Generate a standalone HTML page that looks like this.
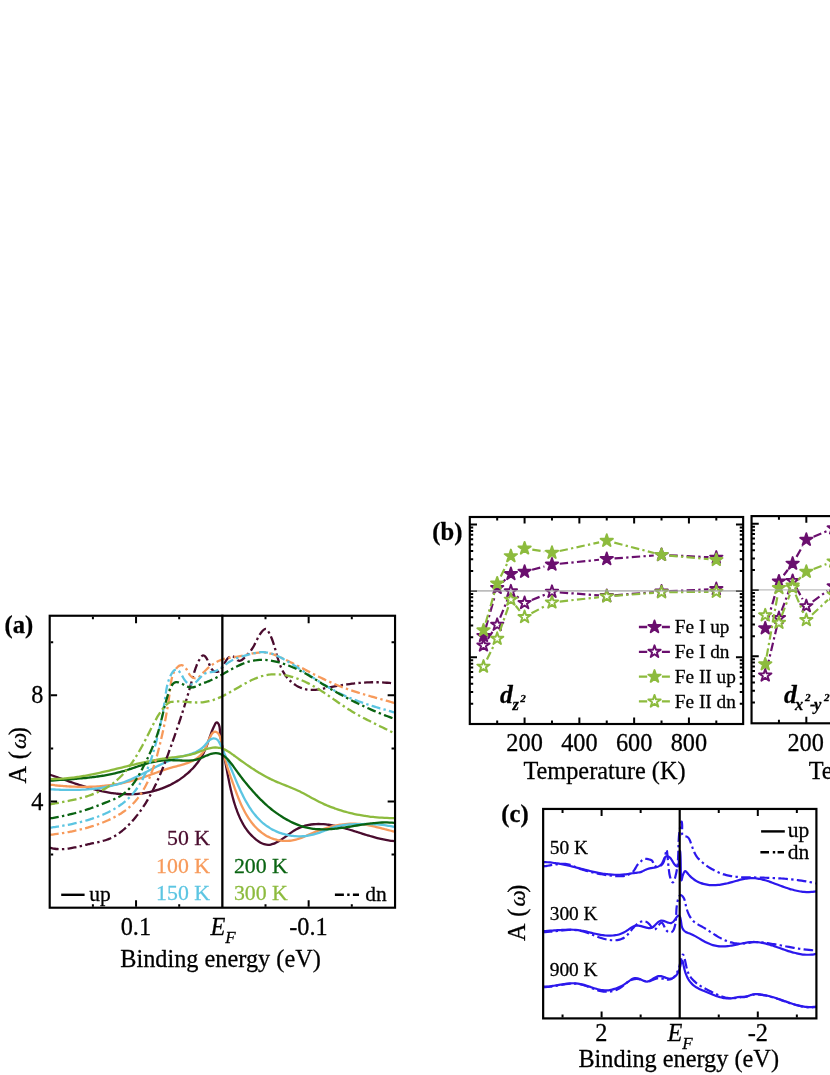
<!DOCTYPE html>
<html><head><meta charset="utf-8"><title>Figure</title>
<style>html,body{margin:0;padding:0;background:#fff}body{width:830px;height:1075px;overflow:hidden;font-family:"Liberation Serif",serif}svg{display:block}</style>
</head><body>
<svg width="830" height="1075" viewBox="0 0 830 1075">
<rect width="830" height="1075" fill="#fff"/>
<defs>
<clipPath id="ca"><rect x="49.7" y="615.7" width="345.3" height="292"/></clipPath>
<clipPath id="cc"><rect x="543.2" y="809" width="273.2" height="209.4"/></clipPath>
<filter id="noaa" filterUnits="userSpaceOnUse" x="0" y="0" width="830" height="1075"><feOffset dx="0" dy="0"/></filter>
</defs>
<g clip-path="url(#ca)" fill="none" stroke-width="2.3" stroke-linejoin="round">
<path d="M49.96,774.71C50.35,774.84 51.51,775.24 52.29,775.51C53.06,775.78 53.84,776.05 54.62,776.33C55.4,776.6 56.18,776.88 56.96,777.15C57.74,777.43 58.53,777.7 59.31,777.98C60.1,778.26 60.88,778.54 61.67,778.82C62.46,779.1 63.25,779.38 64.04,779.66C64.83,779.94 65.62,780.22 66.41,780.49C67.2,780.77 68,781.05 68.79,781.33C69.59,781.61 70.38,781.89 71.18,782.16C71.98,782.44 72.78,782.71 73.58,782.98C74.38,783.26 75.18,783.53 75.98,783.8C76.78,784.07 77.59,784.33 78.39,784.6C79.2,784.86 80,785.12 80.81,785.38C81.62,785.64 82.43,785.9 83.24,786.15C84.05,786.4 84.86,786.65 85.67,786.9C86.48,787.15 87.29,787.39 88.11,787.63C88.92,787.86 89.73,788.1 90.55,788.33C91.36,788.56 92.18,788.78 93,789C93.82,789.22 94.63,789.44 95.45,789.65C96.27,789.86 97.09,790.06 97.92,790.26C98.74,790.46 99.56,790.66 100.38,790.84C101.21,791.03 102.03,791.21 102.85,791.39C103.68,791.56 104.51,791.73 105.33,791.89C106.16,792.05 106.99,792.21 107.81,792.35C108.64,792.5 109.47,792.64 110.3,792.77C111.13,792.9 111.96,793.03 112.79,793.14C113.62,793.26 114.46,793.37 115.29,793.47C116.12,793.56 116.95,793.66 117.79,793.74C118.62,793.82 119.46,793.89 120.29,793.96C121.13,794.02 121.96,794.07 122.8,794.12C123.64,794.16 124.48,794.2 125.31,794.22C126.15,794.25 126.99,794.26 127.83,794.27C128.67,794.27 129.5,794.26 130.34,794.25C131.18,794.23 132.02,794.21 132.86,794.17C133.7,794.13 134.53,794.09 135.37,794.03C136.21,793.97 137.04,793.91 137.88,793.83C138.71,793.75 139.55,793.66 140.38,793.57C141.21,793.47 142.04,793.36 142.87,793.24C143.7,793.12 144.53,792.99 145.36,792.85C146.18,792.71 147.01,792.56 147.83,792.4C148.65,792.23 149.47,792.06 150.28,791.88C151.1,791.7 151.92,791.5 152.73,791.3C153.54,791.09 154.35,790.88 155.15,790.65C155.96,790.42 156.76,790.18 157.56,789.93C158.36,789.69 159.15,789.43 159.94,789.16C160.73,788.88 161.52,788.6 162.3,788.31C163.09,788.02 163.87,787.71 164.64,787.4C165.42,787.08 166.19,786.75 166.95,786.42C167.72,786.08 168.48,785.73 169.24,785.37C169.99,785.01 170.74,784.63 171.49,784.25C172.24,783.87 172.98,783.47 173.71,783.06C174.45,782.66 175.17,782.24 175.9,781.81C176.62,781.38 177.34,780.94 178.05,780.48C178.76,780.03 179.47,779.57 180.16,779.09C180.86,778.61 181.55,778.12 182.24,777.62C182.92,777.12 183.6,776.61 184.27,776.09C184.94,775.57 185.6,775.03 186.25,774.49C186.91,773.94 187.55,773.39 188.18,772.82C188.82,772.25 189.44,771.68 190.06,771.09C190.67,770.5 191.28,769.9 191.87,769.3C192.47,768.69 193.05,768.07 193.62,767.44C194.19,766.81 194.75,766.18 195.3,765.53C195.84,764.88 196.38,764.23 196.9,763.56C197.42,762.89 197.93,762.22 198.43,761.53C198.92,760.85 199.4,760.16 199.87,759.46C200.33,758.75 200.79,758.04 201.22,757.33C201.66,756.61 202.08,755.88 202.49,755.14C202.89,754.41 203.28,753.67 203.65,752.91C204.03,752.16 204.38,751.4 204.72,750.64C205.07,749.87 205.39,749.1 205.71,748.33C206.03,747.55 206.33,746.77 206.63,745.98C206.93,745.2 207.22,744.41 207.51,743.62C207.79,742.83 208.07,742.03 208.34,741.24C208.62,740.45 208.89,739.65 209.17,738.86C209.44,738.07 209.71,737.27 209.99,736.48C210.26,735.69 210.54,734.9 210.83,734.12C211.11,733.33 211.4,732.55 211.7,731.77C212,731 212.3,730.22 212.62,729.46C212.94,728.69 213.26,727.93 213.6,727.18C213.95,726.43 214.3,725.68 214.67,724.95C215.05,724.22 215.39,723.21 215.84,722.79C216.29,722.38 216.88,722.16 217.38,722.43C217.87,722.71 218.46,723.68 218.82,724.44C219.18,725.2 219.38,726.1 219.56,727C219.74,727.89 219.79,728.87 219.88,729.8C219.97,730.73 220.01,731.69 220.09,732.6C220.17,733.51 220.27,734.39 220.37,735.26C220.47,736.13 220.59,736.97 220.71,737.81C220.84,738.64 220.97,739.45 221.11,740.27C221.25,741.08 221.4,741.87 221.54,742.67C221.69,743.47 221.85,744.26 222,745.06C222.16,745.86 222.32,746.65 222.48,747.45C222.64,748.26 222.8,749.06 222.96,749.87C223.12,750.68 223.28,751.49 223.44,752.3C223.6,753.12 223.76,753.93 223.92,754.75C224.08,755.57 224.24,756.39 224.41,757.22C224.57,758.04 224.73,758.87 224.89,759.69C225.05,760.52 225.21,761.35 225.37,762.18C225.53,763.01 225.68,763.84 225.84,764.67C226,765.5 226.16,766.33 226.31,767.17C226.47,768 226.63,768.84 226.78,769.67C226.94,770.5 227.1,771.34 227.25,772.17C227.41,773.01 227.57,773.84 227.73,774.68C227.89,775.51 228.05,776.35 228.21,777.18C228.38,778.01 228.54,778.85 228.71,779.68C228.87,780.51 229.04,781.35 229.21,782.18C229.38,783.01 229.55,783.84 229.73,784.67C229.91,785.5 230.09,786.33 230.27,787.15C230.45,787.98 230.64,788.81 230.82,789.63C231.01,790.45 231.21,791.28 231.4,792.1C231.6,792.92 231.8,793.73 232.01,794.55C232.21,795.37 232.43,796.18 232.64,796.99C232.86,797.8 233.08,798.61 233.3,799.42C233.53,800.23 233.76,801.03 234,801.83C234.24,802.63 234.48,803.43 234.73,804.23C234.98,805.02 235.24,805.81 235.5,806.6C235.76,807.39 236.03,808.18 236.31,808.96C236.59,809.74 236.87,810.52 237.16,811.29C237.46,812.06 237.76,812.83 238.06,813.6C238.37,814.36 238.69,815.13 239.01,815.88C239.34,816.64 239.67,817.39 240.01,818.14C240.36,818.89 240.71,819.63 241.07,820.37C241.44,821.1 241.82,821.84 242.21,822.56C242.6,823.29 243,824.01 243.42,824.72C243.84,825.44 244.27,826.15 244.72,826.85C245.17,827.55 245.64,828.24 246.12,828.93C246.61,829.62 247.11,830.29 247.63,830.97C248.15,831.64 248.69,832.3 249.26,832.96C249.82,833.61 250.4,834.26 251.01,834.9C251.62,835.54 252.25,836.17 252.9,836.79C253.56,837.41 254.24,838.03 254.94,838.63C255.64,839.23 256.38,839.83 257.12,840.39C257.87,840.95 258.64,841.5 259.41,841.98C260.18,842.47 260.97,842.92 261.74,843.29C262.52,843.66 263.29,843.97 264.06,844.21C264.83,844.44 265.59,844.6 266.34,844.69C267.1,844.79 267.85,844.81 268.59,844.79C269.33,844.76 270.07,844.67 270.81,844.53C271.54,844.39 272.28,844.2 273,843.96C273.73,843.73 274.46,843.44 275.18,843.13C275.9,842.81 276.62,842.45 277.34,842.06C278.06,841.68 278.78,841.25 279.5,840.81C280.22,840.37 280.93,839.9 281.65,839.41C282.37,838.93 283.08,838.42 283.8,837.91C284.52,837.4 285.24,836.87 285.96,836.34C286.68,835.82 287.4,835.28 288.12,834.75C288.85,834.23 289.58,833.69 290.31,833.18C291.04,832.66 291.77,832.15 292.51,831.66C293.25,831.18 293.99,830.7 294.74,830.25C295.49,829.8 296.24,829.37 297,828.97C297.76,828.58 298.52,828.21 299.29,827.86C300.06,827.52 300.83,827.2 301.61,826.91C302.39,826.61 303.18,826.34 303.96,826.1C304.75,825.85 305.54,825.63 306.34,825.44C307.13,825.24 307.93,825.06 308.74,824.91C309.54,824.76 310.35,824.62 311.15,824.51C311.96,824.4 312.78,824.31 313.59,824.24C314.4,824.16 315.22,824.11 316.04,824.08C316.86,824.04 317.68,824.02 318.5,824.02C319.33,824.02 320.15,824.04 320.98,824.07C321.8,824.1 322.63,824.15 323.46,824.21C324.29,824.27 325.12,824.35 325.95,824.44C326.78,824.53 327.61,824.64 328.44,824.75C329.27,824.87 330.1,824.99 330.93,825.13C331.75,825.27 332.58,825.42 333.41,825.58C334.24,825.74 335.07,825.91 335.89,826.08C336.72,826.26 337.55,826.45 338.37,826.64C339.19,826.84 340.02,827.04 340.84,827.24C341.66,827.45 342.47,827.67 343.29,827.89C344.11,828.1 344.92,828.33 345.74,828.56C346.55,828.79 347.36,829.02 348.17,829.26C348.98,829.5 349.79,829.74 350.6,829.99C351.41,830.23 352.22,830.48 353.03,830.73C353.84,830.98 354.64,831.23 355.45,831.49C356.26,831.74 357.06,832 357.87,832.25C358.67,832.51 359.48,832.76 360.28,833.02C361.09,833.27 361.89,833.53 362.7,833.78C363.5,834.04 364.31,834.29 365.11,834.54C365.92,834.79 366.72,835.04 367.53,835.28C368.34,835.53 369.14,835.77 369.95,836.01C370.76,836.25 371.57,836.48 372.38,836.71C373.19,836.94 374,837.17 374.81,837.39C375.62,837.61 376.43,837.82 377.24,838.03C378.06,838.24 378.87,838.44 379.69,838.63C380.51,838.83 381.32,839.01 382.14,839.19C382.96,839.37 383.79,839.54 384.61,839.7C385.43,839.87 386.26,840.02 387.09,840.16C387.92,840.3 388.75,840.44 389.58,840.56C390.41,840.68 391.25,840.8 392.08,840.9C392.92,841 394.18,841.12 394.6,841.16" stroke="#4a0c2e"/>
<path d="M49.84,784.65C50.25,784.7 51.49,784.85 52.32,784.95C53.15,785.05 53.98,785.14 54.81,785.23C55.64,785.32 56.47,785.41 57.31,785.5C58.14,785.58 58.97,785.66 59.81,785.74C60.64,785.81 61.48,785.89 62.31,785.96C63.15,786.03 63.98,786.09 64.82,786.15C65.66,786.22 66.5,786.27 67.33,786.33C68.17,786.38 69.01,786.43 69.85,786.48C70.69,786.53 71.53,786.57 72.37,786.61C73.21,786.64 74.05,786.68 74.89,786.71C75.73,786.74 76.57,786.76 77.41,786.78C78.25,786.8 79.09,786.82 79.93,786.83C80.77,786.84 81.62,786.85 82.46,786.86C83.3,786.86 84.14,786.86 84.98,786.85C85.82,786.85 86.66,786.83 87.5,786.82C88.35,786.8 89.19,786.78 90.03,786.76C90.87,786.73 91.71,786.7 92.55,786.67C93.39,786.63 94.23,786.59 95.07,786.55C95.91,786.5 96.75,786.45 97.58,786.4C98.42,786.34 99.26,786.28 100.1,786.22C100.94,786.15 101.77,786.08 102.61,786C103.44,785.93 104.28,785.85 105.12,785.76C105.95,785.67 106.78,785.58 107.62,785.48C108.45,785.38 109.28,785.28 110.11,785.17C110.95,785.06 111.78,784.94 112.61,784.82C113.43,784.7 114.26,784.58 115.09,784.44C115.92,784.31 116.74,784.17 117.57,784.03C118.39,783.88 119.22,783.73 120.04,783.58C120.86,783.42 121.69,783.26 122.51,783.09C123.33,782.92 124.14,782.74 124.96,782.56C125.78,782.38 126.6,782.19 127.41,782C128.22,781.81 129.04,781.61 129.85,781.4C130.66,781.19 131.47,780.98 132.28,780.76C133.09,780.54 133.89,780.31 134.7,780.08C135.5,779.84 136.3,779.6 137.11,779.36C137.91,779.11 138.71,778.86 139.5,778.6C140.3,778.34 141.1,778.08 141.89,777.81C142.69,777.54 143.48,777.27 144.28,776.99C145.07,776.71 145.86,776.43 146.65,776.15C147.44,775.87 148.23,775.58 149.02,775.3C149.82,775.01 150.6,774.72 151.39,774.43C152.18,774.15 152.97,773.86 153.76,773.57C154.55,773.28 155.34,772.99 156.13,772.71C156.92,772.42 157.71,772.13 158.5,771.85C159.29,771.57 160.08,771.29 160.88,771.01C161.67,770.73 162.46,770.46 163.26,770.19C164.05,769.92 164.85,769.65 165.64,769.39C166.44,769.13 167.24,768.88 168.04,768.63C168.84,768.38 169.64,768.14 170.44,767.9C171.24,767.67 172.05,767.44 172.85,767.22C173.66,767 174.47,766.79 175.28,766.58C176.09,766.37 176.9,766.17 177.71,765.96C178.51,765.75 179.32,765.54 180.13,765.33C180.94,765.11 181.74,764.9 182.54,764.67C183.35,764.44 184.14,764.2 184.94,763.95C185.73,763.69 186.52,763.43 187.31,763.15C188.09,762.86 188.87,762.56 189.64,762.23C190.41,761.91 191.18,761.56 191.93,761.19C192.69,760.82 193.43,760.43 194.16,760.01C194.88,759.59 195.59,759.15 196.28,758.69C196.97,758.22 197.65,757.73 198.29,757.22C198.94,756.7 199.56,756.16 200.16,755.59C200.75,755.03 201.32,754.43 201.85,753.81C202.38,753.19 202.88,752.54 203.35,751.87C203.81,751.19 204.23,750.49 204.63,749.76C205.03,749.03 205.38,748.27 205.73,747.48C206.09,746.7 206.41,745.89 206.74,745.07C207.08,744.24 207.4,743.38 207.74,742.52C208.08,741.65 208.43,740.74 208.8,739.85C209.17,738.96 209.56,738.03 209.98,737.19C210.4,736.35 210.83,735.51 211.29,734.8C211.75,734.1 212.24,733.44 212.75,732.96C213.25,732.48 213.8,732.1 214.32,731.91C214.85,731.72 215.4,731.69 215.92,731.82C216.44,731.95 216.96,732.28 217.44,732.7C217.92,733.11 218.39,733.69 218.8,734.32C219.22,734.95 219.6,735.7 219.93,736.46C220.26,737.22 220.52,738.06 220.76,738.9C221,739.74 221.18,740.63 221.35,741.51C221.53,742.39 221.67,743.31 221.82,744.21C221.98,745.1 222.12,746.01 222.27,746.9C222.43,747.78 222.59,748.66 222.77,749.53C222.94,750.4 223.12,751.26 223.3,752.12C223.49,752.97 223.68,753.82 223.88,754.65C224.08,755.49 224.28,756.32 224.49,757.15C224.7,757.97 224.92,758.79 225.14,759.6C225.36,760.42 225.59,761.22 225.82,762.02C226.05,762.83 226.29,763.62 226.53,764.42C226.77,765.21 227.01,766 227.26,766.78C227.51,767.57 227.76,768.35 228.02,769.13C228.28,769.91 228.54,770.69 228.8,771.47C229.06,772.24 229.32,773.02 229.59,773.79C229.86,774.56 230.13,775.33 230.4,776.11C230.67,776.88 230.94,777.65 231.22,778.42C231.49,779.2 231.77,779.97 232.05,780.75C232.32,781.52 232.6,782.3 232.88,783.08C233.16,783.85 233.44,784.64 233.72,785.42C234,786.2 234.28,786.99 234.56,787.77C234.84,788.56 235.12,789.34 235.41,790.13C235.7,790.92 235.99,791.71 236.28,792.49C236.57,793.28 236.87,794.07 237.17,794.86C237.47,795.64 237.77,796.43 238.08,797.21C238.39,798 238.7,798.78 239.02,799.56C239.34,800.34 239.67,801.12 240,801.9C240.33,802.67 240.67,803.45 241.01,804.22C241.36,804.99 241.71,805.75 242.07,806.51C242.43,807.28 242.8,808.04 243.17,808.79C243.55,809.54 243.93,810.29 244.33,811.04C244.72,811.78 245.13,812.52 245.54,813.25C245.95,813.98 246.38,814.71 246.81,815.43C247.25,816.15 247.69,816.87 248.15,817.57C248.61,818.28 249.08,818.98 249.56,819.67C250.04,820.36 250.54,821.05 251.04,821.72C251.55,822.4 252.07,823.06 252.61,823.72C253.14,824.38 253.69,825.02 254.25,825.66C254.81,826.29 255.38,826.92 255.97,827.53C256.56,828.13 257.16,828.73 257.77,829.31C258.38,829.89 259.01,830.46 259.65,831C260.29,831.55 260.94,832.08 261.61,832.59C262.28,833.1 262.96,833.6 263.65,834.07C264.34,834.54 265.05,834.99 265.77,835.42C266.49,835.84 267.22,836.25 267.97,836.63C268.71,837.01 269.47,837.37 270.24,837.7C271.01,838.03 271.79,838.34 272.59,838.62C273.38,838.9 274.18,839.16 274.99,839.39C275.8,839.62 276.61,839.83 277.43,840.01C278.26,840.19 279.08,840.35 279.92,840.47C280.75,840.6 281.58,840.7 282.42,840.78C283.25,840.85 284.09,840.9 284.93,840.93C285.77,840.95 286.61,840.94 287.44,840.91C288.28,840.88 289.11,840.82 289.94,840.74C290.77,840.65 291.6,840.54 292.41,840.4C293.23,840.25 294.04,840.08 294.85,839.89C295.66,839.7 296.46,839.47 297.25,839.23C298.05,838.99 298.83,838.73 299.62,838.45C300.41,838.17 301.19,837.87 301.97,837.57C302.75,837.26 303.52,836.94 304.3,836.61C305.08,836.29 305.85,835.95 306.63,835.62C307.4,835.28 308.18,834.94 308.95,834.6C309.73,834.27 310.51,833.93 311.29,833.6C312.07,833.27 312.85,832.94 313.64,832.62C314.42,832.3 315.21,831.99 316,831.68C316.79,831.37 317.58,831.07 318.37,830.77C319.17,830.47 319.96,830.18 320.76,829.9C321.56,829.61 322.36,829.34 323.16,829.07C323.96,828.8 324.76,828.53 325.56,828.28C326.37,828.03 327.17,827.78 327.98,827.54C328.79,827.31 329.6,827.08 330.41,826.86C331.22,826.64 332.03,826.43 332.84,826.23C333.66,826.03 334.47,825.84 335.29,825.66C336.1,825.48 336.92,825.32 337.74,825.16C338.56,825 339.38,824.85 340.2,824.72C341.02,824.58 341.84,824.46 342.67,824.35C343.49,824.24 344.31,824.14 345.14,824.05C345.97,823.96 346.79,823.89 347.62,823.83C348.45,823.77 349.27,823.72 350.1,823.69C350.93,823.66 351.76,823.64 352.59,823.63C353.42,823.63 354.25,823.64 355.09,823.66C355.92,823.69 356.75,823.73 357.58,823.78C358.42,823.84 359.25,823.91 360.08,824C360.92,824.08 361.75,824.19 362.59,824.3C363.42,824.41 364.25,824.54 365.09,824.67C365.92,824.81 366.76,824.96 367.59,825.11C368.42,825.27 369.25,825.44 370.09,825.61C370.92,825.79 371.75,825.97 372.58,826.16C373.41,826.35 374.24,826.54 375.07,826.74C375.89,826.94 376.72,827.15 377.54,827.35C378.37,827.56 379.19,827.77 380.01,827.98C380.83,828.2 381.65,828.41 382.47,828.62C383.29,828.84 384.1,829.05 384.92,829.26C385.73,829.47 386.54,829.69 387.35,829.89C388.15,830.1 388.96,830.3 389.76,830.5C390.56,830.7 391.36,830.9 392.16,831.08C392.96,831.27 394.14,831.54 394.54,831.63" stroke="#f79a5b"/>
<path d="M49.84,789.24C50.25,789.27 51.49,789.34 52.32,789.39C53.15,789.43 53.98,789.47 54.81,789.52C55.64,789.56 56.48,789.6 57.31,789.63C58.14,789.67 58.98,789.7 59.81,789.73C60.65,789.76 61.49,789.79 62.33,789.82C63.16,789.84 64,789.87 64.84,789.88C65.68,789.9 66.52,789.92 67.36,789.93C68.2,789.94 69.05,789.95 69.89,789.96C70.73,789.96 71.57,789.96 72.42,789.96C73.26,789.96 74.1,789.95 74.94,789.94C75.79,789.92 76.63,789.91 77.47,789.89C78.32,789.87 79.16,789.84 80,789.81C80.85,789.78 81.69,789.75 82.53,789.71C83.37,789.67 84.22,789.62 85.06,789.57C85.9,789.52 86.74,789.47 87.58,789.4C88.42,789.34 89.26,789.28 90.1,789.2C90.94,789.13 91.77,789.05 92.61,788.97C93.45,788.88 94.28,788.79 95.12,788.69C95.95,788.59 96.79,788.49 97.62,788.38C98.45,788.27 99.28,788.15 100.11,788.03C100.94,787.9 101.77,787.77 102.59,787.63C103.42,787.5 104.25,787.35 105.07,787.2C105.89,787.05 106.71,786.89 107.53,786.72C108.35,786.55 109.17,786.37 109.98,786.19C110.8,786.01 111.61,785.82 112.42,785.62C113.23,785.42 114.04,785.21 114.84,784.99C115.65,784.78 116.45,784.55 117.25,784.32C118.06,784.09 118.85,783.84 119.65,783.59C120.44,783.34 121.24,783.08 122.03,782.81C122.82,782.54 123.6,782.26 124.39,781.98C125.17,781.69 125.95,781.39 126.73,781.09C127.51,780.78 128.28,780.47 129.06,780.14C129.83,779.82 130.6,779.49 131.37,779.16C132.14,778.82 132.9,778.48 133.67,778.13C134.43,777.78 135.19,777.43 135.95,777.07C136.71,776.71 137.47,776.34 138.23,775.97C138.99,775.6 139.74,775.23 140.5,774.86C141.26,774.48 142.01,774.1 142.76,773.72C143.52,773.34 144.27,772.95 145.02,772.57C145.77,772.18 146.52,771.79 147.27,771.4C148.03,771.02 148.78,770.63 149.53,770.24C150.28,769.85 151.03,769.46 151.78,769.07C152.53,768.69 153.28,768.3 154.03,767.92C154.79,767.53 155.54,767.15 156.29,766.77C157.04,766.39 157.8,766.01 158.55,765.64C159.31,765.27 160.07,764.9 160.82,764.53C161.58,764.17 162.34,763.81 163.1,763.45C163.86,763.1 164.62,762.75 165.39,762.41C166.15,762.06 166.92,761.73 167.69,761.4C168.46,761.07 169.23,760.74 170,760.43C170.77,760.11 171.55,759.81 172.33,759.51C173.11,759.21 173.89,758.92 174.67,758.64C175.46,758.36 176.24,758.09 177.03,757.84C177.82,757.58 178.62,757.33 179.42,757.09C180.21,756.86 181.02,756.63 181.82,756.41C182.62,756.2 183.43,755.99 184.23,755.78C185.04,755.57 185.84,755.36 186.64,755.15C187.44,754.93 188.24,754.72 189.04,754.49C189.83,754.26 190.62,754.02 191.4,753.77C192.18,753.51 192.96,753.24 193.72,752.94C194.49,752.64 195.24,752.33 195.98,751.98C196.73,751.63 197.46,751.26 198.18,750.85C198.89,750.43 199.6,749.99 200.28,749.5C200.97,749.02 201.64,748.49 202.29,747.92C202.94,747.35 203.57,746.71 204.19,746.06C204.8,745.4 205.39,744.67 205.99,743.98C206.58,743.28 207.16,742.55 207.76,741.91C208.36,741.27 208.95,740.63 209.57,740.11C210.2,739.6 210.83,739.14 211.51,738.84C212.18,738.55 212.91,738.36 213.62,738.34C214.33,738.32 215.1,738.45 215.77,738.73C216.44,739.01 217.1,739.46 217.66,740.02C218.21,740.59 218.67,741.35 219.12,742.12C219.56,742.88 219.93,743.77 220.31,744.6C220.7,745.43 221.06,746.27 221.43,747.08C221.79,747.89 222.15,748.68 222.51,749.47C222.86,750.25 223.22,751.02 223.56,751.78C223.91,752.54 224.25,753.29 224.59,754.04C224.93,754.78 225.27,755.51 225.6,756.25C225.94,756.98 226.27,757.71 226.6,758.43C226.92,759.16 227.25,759.88 227.57,760.61C227.9,761.34 228.22,762.06 228.54,762.8C228.86,763.53 229.18,764.26 229.51,765C229.83,765.74 230.14,766.49 230.46,767.24C230.78,767.99 231.1,768.75 231.42,769.52C231.74,770.28 232.06,771.05 232.39,771.82C232.71,772.59 233.03,773.36 233.35,774.14C233.68,774.92 234,775.7 234.33,776.48C234.66,777.27 234.99,778.05 235.32,778.84C235.65,779.63 235.98,780.42 236.32,781.21C236.66,782 237,782.79 237.34,783.58C237.68,784.37 238.03,785.16 238.38,785.95C238.73,786.74 239.08,787.53 239.44,788.32C239.79,789.11 240.16,789.9 240.52,790.68C240.89,791.47 241.26,792.25 241.63,793.03C242.01,793.81 242.39,794.59 242.78,795.36C243.17,796.13 243.56,796.9 243.96,797.67C244.36,798.43 244.76,799.19 245.17,799.95C245.58,800.7 246,801.45 246.42,802.2C246.85,802.94 247.28,803.68 247.72,804.41C248.16,805.14 248.6,805.87 249.06,806.59C249.51,807.3 249.98,808.01 250.45,808.71C250.92,809.42 251.4,810.11 251.88,810.79C252.37,811.48 252.87,812.16 253.37,812.82C253.88,813.49 254.4,814.14 254.92,814.79C255.45,815.43 255.98,816.07 256.53,816.69C257.07,817.32 257.63,817.93 258.19,818.53C258.76,819.13 259.34,819.72 259.92,820.3C260.51,820.87 261.11,821.44 261.72,821.99C262.33,822.54 262.96,823.07 263.59,823.6C264.23,824.12 264.87,824.63 265.53,825.12C266.19,825.61 266.86,826.09 267.54,826.55C268.23,827.02 268.92,827.46 269.62,827.9C270.33,828.33 271.04,828.75 271.76,829.15C272.49,829.55 273.22,829.94 273.96,830.31C274.7,830.68 275.45,831.03 276.21,831.37C276.97,831.71 277.74,832.03 278.51,832.33C279.28,832.64 280.06,832.93 280.85,833.2C281.64,833.47 282.43,833.73 283.23,833.96C284.03,834.2 284.83,834.42 285.64,834.63C286.45,834.83 287.26,835.02 288.08,835.18C288.9,835.35 289.72,835.5 290.54,835.64C291.37,835.77 292.2,835.88 293.03,835.98C293.85,836.08 294.69,836.16 295.52,836.22C296.35,836.28 297.19,836.32 298.03,836.34C298.86,836.36 299.7,836.37 300.53,836.35C301.37,836.34 302.21,836.3 303.04,836.25C303.88,836.19 304.71,836.12 305.55,836.03C306.38,835.93 307.21,835.82 308.04,835.69C308.87,835.55 309.69,835.4 310.52,835.23C311.34,835.06 312.16,834.86 312.97,834.65C313.79,834.44 314.6,834.2 315.41,833.96C316.22,833.72 317.03,833.45 317.84,833.18C318.64,832.91 319.44,832.63 320.25,832.34C321.05,832.05 321.85,831.75 322.65,831.45C323.45,831.15 324.25,830.85 325.04,830.54C325.84,830.24 326.64,829.93 327.44,829.63C328.24,829.33 329.04,829.03 329.84,828.74C330.64,828.45 331.44,828.16 332.24,827.89C333.05,827.62 333.85,827.35 334.66,827.11C335.47,826.86 336.28,826.62 337.09,826.41C337.9,826.19 338.72,825.99 339.54,825.81C340.35,825.64 341.18,825.48 342,825.34C342.83,825.19 343.65,825.07 344.48,824.96C345.31,824.85 346.14,824.75 346.98,824.67C347.81,824.58 348.64,824.51 349.48,824.45C350.32,824.39 351.15,824.34 351.99,824.3C352.83,824.25 353.67,824.22 354.51,824.19C355.35,824.16 356.19,824.14 357.03,824.12C357.87,824.1 358.71,824.08 359.55,824.07C360.38,824.05 361.22,824.04 362.06,824.03C362.9,824.03 363.74,824.02 364.58,824.02C365.41,824.03 366.25,824.03 367.09,824.04C367.93,824.05 368.76,824.07 369.6,824.09C370.44,824.11 371.27,824.13 372.11,824.17C372.94,824.2 373.78,824.24 374.61,824.28C375.45,824.33 376.28,824.38 377.12,824.44C377.95,824.5 378.79,824.56 379.62,824.64C380.45,824.71 381.29,824.79 382.12,824.88C382.95,824.98 383.79,825.07 384.62,825.18C385.45,825.29 386.28,825.41 387.11,825.54C387.94,825.66 388.77,825.8 389.6,825.95C390.43,826.09 391.26,826.25 392.09,826.42C392.92,826.59 394.17,826.87 394.58,826.96" stroke="#5cc5e2"/>
<path d="M49.83,780.7C50.25,780.67 51.51,780.57 52.34,780.51C53.18,780.45 54.02,780.39 54.86,780.33C55.7,780.27 56.54,780.21 57.38,780.15C58.22,780.09 59.06,780.03 59.91,779.97C60.75,779.91 61.59,779.86 62.43,779.8C63.27,779.74 64.11,779.68 64.95,779.62C65.79,779.56 66.64,779.51 67.48,779.45C68.32,779.39 69.16,779.33 70,779.26C70.84,779.2 71.68,779.14 72.53,779.08C73.37,779.01 74.21,778.95 75.05,778.88C75.89,778.81 76.73,778.75 77.57,778.68C78.41,778.61 79.25,778.54 80.1,778.46C80.94,778.39 81.78,778.31 82.62,778.23C83.45,778.16 84.29,778.08 85.13,777.99C85.97,777.91 86.81,777.82 87.65,777.73C88.49,777.64 89.32,777.55 90.16,777.46C91,777.36 91.83,777.26 92.67,777.16C93.51,777.06 94.34,776.95 95.18,776.84C96.01,776.73 96.85,776.62 97.68,776.5C98.51,776.38 99.34,776.26 100.18,776.14C101.01,776.01 101.84,775.88 102.67,775.74C103.5,775.61 104.33,775.47 105.16,775.32C105.99,775.18 106.81,775.03 107.64,774.87C108.47,774.72 109.29,774.56 110.12,774.39C110.94,774.22 111.76,774.05 112.59,773.87C113.41,773.7 114.23,773.51 115.05,773.32C115.87,773.13 116.69,772.94 117.51,772.73C118.33,772.53 119.14,772.32 119.96,772.11C120.77,771.89 121.59,771.67 122.4,771.44C123.21,771.21 124.03,770.97 124.84,770.73C125.65,770.48 126.45,770.23 127.26,769.98C128.07,769.72 128.88,769.46 129.68,769.2C130.49,768.93 131.29,768.66 132.1,768.39C132.9,768.12 133.71,767.85 134.51,767.58C135.32,767.31 136.12,767.03 136.93,766.76C137.73,766.49 138.53,766.22 139.34,765.95C140.14,765.69 140.95,765.42 141.75,765.16C142.56,764.9 143.37,764.65 144.17,764.4C144.98,764.15 145.79,763.91 146.6,763.67C147.41,763.44 148.22,763.21 149.03,762.99C149.85,762.77 150.66,762.56 151.48,762.37C152.29,762.17 153.11,761.98 153.93,761.81C154.75,761.63 155.57,761.47 156.4,761.32C157.22,761.18 158.05,761.04 158.88,760.93C159.71,760.81 160.54,760.71 161.37,760.62C162.21,760.54 163.05,760.47 163.89,760.41C164.73,760.36 165.57,760.31 166.41,760.28C167.25,760.25 168.1,760.23 168.94,760.22C169.79,760.21 170.63,760.21 171.48,760.22C172.32,760.22 173.17,760.24 174.01,760.25C174.86,760.27 175.7,760.29 176.55,760.32C177.39,760.34 178.23,760.37 179.08,760.4C179.92,760.43 180.76,760.46 181.59,760.48C182.43,760.51 183.26,760.54 184.1,760.56C184.93,760.57 185.76,760.59 186.58,760.59C187.41,760.59 188.23,760.58 189.06,760.55C189.88,760.51 190.7,760.47 191.51,760.39C192.33,760.31 193.14,760.22 193.95,760.09C194.76,759.96 195.57,759.8 196.38,759.6C197.18,759.4 197.98,759.17 198.78,758.9C199.58,758.63 200.38,758.3 201.18,757.97C201.98,757.64 202.77,757.26 203.57,756.9C204.38,756.54 205.18,756.16 206,755.81C206.81,755.46 207.64,755.11 208.47,754.8C209.29,754.49 210.12,754.2 210.95,753.96C211.77,753.73 212.6,753.52 213.41,753.39C214.23,753.25 215.04,753.16 215.82,753.16C216.61,753.15 217.39,753.21 218.14,753.35C218.9,753.49 219.63,753.71 220.35,753.99C221.07,754.27 221.77,754.62 222.46,755.02C223.14,755.42 223.81,755.89 224.46,756.39C225.11,756.89 225.75,757.44 226.37,758.03C227,758.61 227.61,759.24 228.2,759.88C228.8,760.53 229.38,761.21 229.95,761.9C230.52,762.58 231.07,763.3 231.62,764.01C232.16,764.72 232.7,765.45 233.22,766.17C233.74,766.88 234.25,767.61 234.76,768.31C235.26,769.01 235.75,769.7 236.24,770.38C236.73,771.05 237.2,771.71 237.68,772.36C238.16,773.02 238.62,773.66 239.1,774.3C239.57,774.93 240.04,775.56 240.51,776.19C240.99,776.82 241.46,777.44 241.94,778.07C242.43,778.7 242.91,779.32 243.41,779.96C243.91,780.59 244.42,781.23 244.93,781.87C245.45,782.51 245.98,783.15 246.51,783.8C247.04,784.44 247.58,785.09 248.12,785.74C248.66,786.38 249.21,787.03 249.75,787.67C250.3,788.31 250.85,788.95 251.4,789.59C251.96,790.22 252.51,790.85 253.06,791.47C253.61,792.09 254.16,792.71 254.72,793.32C255.27,793.93 255.83,794.54 256.39,795.14C256.95,795.74 257.51,796.34 258.08,796.93C258.65,797.52 259.21,798.11 259.79,798.69C260.36,799.28 260.94,799.86 261.53,800.43C262.11,801 262.7,801.57 263.3,802.14C263.9,802.71 264.5,803.27 265.11,803.83C265.72,804.38 266.34,804.94 266.96,805.49C267.59,806.04 268.22,806.59 268.87,807.13C269.51,807.67 270.16,808.21 270.82,808.75C271.48,809.28 272.14,809.81 272.82,810.34C273.49,810.86 274.18,811.38 274.87,811.89C275.56,812.41 276.25,812.91 276.96,813.41C277.66,813.91 278.37,814.41 279.09,814.89C279.8,815.38 280.53,815.85 281.26,816.32C281.99,816.79 282.72,817.25 283.46,817.7C284.2,818.15 284.95,818.59 285.7,819.03C286.45,819.46 287.21,819.88 287.97,820.29C288.73,820.7 289.5,821.1 290.27,821.49C291.04,821.87 291.82,822.25 292.59,822.62C293.37,822.98 294.16,823.33 294.94,823.67C295.73,824.01 296.52,824.33 297.31,824.64C298.11,824.95 298.9,825.25 299.7,825.53C300.5,825.81 301.3,826.08 302.11,826.33C302.91,826.58 303.72,826.82 304.53,827.04C305.33,827.26 306.14,827.46 306.96,827.65C307.77,827.84 308.58,828.01 309.4,828.16C310.21,828.31 311.03,828.45 311.84,828.57C312.66,828.69 313.48,828.8 314.3,828.89C315.12,828.98 315.94,829.06 316.76,829.12C317.59,829.19 318.41,829.24 319.23,829.27C320.06,829.31 320.88,829.34 321.71,829.35C322.54,829.36 323.37,829.36 324.19,829.36C325.02,829.35 325.85,829.33 326.68,829.3C327.51,829.27 328.35,829.23 329.18,829.18C330.01,829.13 330.84,829.07 331.68,829.01C332.51,828.94 333.35,828.87 334.18,828.79C335.02,828.7 335.85,828.62 336.69,828.52C337.53,828.43 338.37,828.32 339.2,828.22C340.04,828.11 340.88,828 341.72,827.88C342.56,827.77 343.4,827.65 344.24,827.52C345.08,827.4 345.92,827.27 346.76,827.14C347.6,827.01 348.44,826.87 349.28,826.74C350.12,826.6 350.96,826.47 351.8,826.33C352.64,826.19 353.48,826.05 354.32,825.91C355.17,825.77 356.01,825.63 356.85,825.5C357.69,825.36 358.53,825.22 359.37,825.09C360.21,824.95 361.06,824.82 361.9,824.69C362.74,824.56 363.58,824.43 364.42,824.3C365.26,824.18 366.1,824.06 366.94,823.94C367.78,823.82 368.62,823.71 369.46,823.6C370.3,823.5 371.14,823.4 371.98,823.3C372.82,823.21 373.65,823.12 374.49,823.04C375.33,822.95 376.17,822.88 377,822.81C377.84,822.75 378.68,822.69 379.51,822.64C380.35,822.59 381.18,822.55 382.01,822.52C382.85,822.49 383.68,822.47 384.51,822.46C385.35,822.45 386.18,822.45 387.01,822.46C387.84,822.48 388.67,822.5 389.5,822.54C390.32,822.58 391.15,822.62 391.98,822.69C392.81,822.75 394.04,822.88 394.46,822.92" stroke="#0a6412"/>
<path d="M49.84,779.05C50.26,779.05 51.53,779.06 52.37,779.05C53.22,779.04 54.06,779.03 54.9,779.01C55.74,778.99 56.58,778.96 57.42,778.92C58.26,778.89 59.1,778.85 59.94,778.8C60.78,778.75 61.62,778.7 62.45,778.64C63.29,778.58 64.12,778.52 64.96,778.45C65.8,778.37 66.63,778.3 67.46,778.21C68.3,778.13 69.13,778.04 69.96,777.95C70.8,777.86 71.63,777.76 72.46,777.66C73.29,777.55 74.12,777.45 74.95,777.33C75.78,777.22 76.61,777.1 77.44,776.98C78.27,776.86 79.09,776.73 79.92,776.6C80.75,776.47 81.58,776.34 82.4,776.2C83.23,776.06 84.05,775.91 84.88,775.77C85.7,775.62 86.53,775.47 87.35,775.32C88.18,775.16 89,775.01 89.82,774.85C90.65,774.69 91.47,774.52 92.29,774.35C93.12,774.19 93.94,774.02 94.76,773.85C95.58,773.67 96.4,773.5 97.22,773.32C98.05,773.14 98.87,772.96 99.69,772.78C100.51,772.6 101.33,772.42 102.15,772.23C102.97,772.04 103.79,771.86 104.6,771.67C105.42,771.48 106.24,771.29 107.06,771.09C107.88,770.9 108.7,770.71 109.52,770.51C110.34,770.31 111.15,770.12 111.97,769.92C112.79,769.72 113.61,769.52 114.43,769.32C115.24,769.13 116.06,768.93 116.88,768.73C117.7,768.53 118.51,768.32 119.33,768.12C120.15,767.92 120.96,767.72 121.78,767.52C122.6,767.32 123.42,767.12 124.23,766.92C125.05,766.72 125.87,766.52 126.68,766.32C127.5,766.12 128.32,765.92 129.13,765.72C129.95,765.52 130.77,765.33 131.59,765.13C132.4,764.93 133.22,764.74 134.04,764.54C134.86,764.35 135.67,764.16 136.49,763.97C137.31,763.78 138.13,763.59 138.94,763.4C139.76,763.21 140.58,763.03 141.4,762.84C142.22,762.66 143.04,762.48 143.85,762.3C144.67,762.12 145.49,761.94 146.31,761.77C147.13,761.6 147.95,761.43 148.77,761.26C149.59,761.09 150.41,760.92 151.23,760.76C152.05,760.6 152.87,760.44 153.69,760.28C154.51,760.13 155.34,759.97 156.16,759.83C156.98,759.68 157.8,759.53 158.62,759.39C159.45,759.25 160.27,759.11 161.09,758.98C161.92,758.84 162.74,758.72 163.57,758.59C164.39,758.47 165.21,758.35 166.04,758.23C166.87,758.11 167.69,758 168.52,757.9C169.34,757.79 170.17,757.69 171,757.59C171.83,757.49 172.65,757.4 173.48,757.31C174.31,757.22 175.14,757.13 175.97,757.03C176.8,756.94 177.63,756.84 178.46,756.74C179.28,756.64 180.11,756.54 180.94,756.43C181.77,756.32 182.6,756.2 183.43,756.07C184.26,755.94 185.09,755.81 185.91,755.66C186.74,755.51 187.57,755.34 188.4,755.17C189.22,754.99 190.05,754.8 190.88,754.58C191.7,754.37 192.53,754.14 193.35,753.89C194.18,753.64 195,753.37 195.82,753.08C196.64,752.8 197.47,752.49 198.29,752.18C199.11,751.87 199.93,751.55 200.74,751.24C201.56,750.93 202.38,750.61 203.19,750.3C204,750 204.82,749.7 205.63,749.43C206.44,749.15 207.24,748.89 208.05,748.66C208.85,748.43 209.66,748.22 210.46,748.05C211.26,747.88 212.06,747.74 212.85,747.65C213.65,747.55 214.44,747.5 215.22,747.48C216.01,747.47 216.79,747.49 217.57,747.56C218.34,747.63 219.11,747.74 219.87,747.9C220.63,748.05 221.38,748.26 222.13,748.5C222.87,748.75 223.61,749.05 224.34,749.37C225.07,749.7 225.79,750.07 226.5,750.47C227.22,750.86 227.92,751.3 228.63,751.74C229.33,752.19 230.03,752.67 230.73,753.15C231.43,753.63 232.12,754.14 232.81,754.64C233.51,755.14 234.2,755.66 234.89,756.16C235.58,756.67 236.27,757.18 236.95,757.69C237.64,758.19 238.33,758.7 239.02,759.2C239.71,759.7 240.4,760.2 241.09,760.7C241.78,761.2 242.47,761.69 243.16,762.18C243.85,762.67 244.54,763.16 245.24,763.65C245.93,764.14 246.62,764.62 247.32,765.1C248.01,765.58 248.7,766.05 249.4,766.53C250.1,767 250.8,767.47 251.5,767.93C252.2,768.39 252.9,768.86 253.6,769.31C254.31,769.77 255.01,770.22 255.72,770.66C256.43,771.11 257.14,771.55 257.85,771.99C258.56,772.43 259.27,772.86 259.99,773.28C260.71,773.71 261.43,774.13 262.15,774.55C262.87,774.96 263.6,775.37 264.33,775.78C265.06,776.18 265.79,776.58 266.53,776.97C267.26,777.36 268,777.74 268.75,778.12C269.49,778.5 270.24,778.87 270.99,779.24C271.74,779.6 272.49,779.96 273.25,780.31C274.01,780.66 274.77,781 275.54,781.34C276.31,781.67 277.08,782 277.85,782.33C278.63,782.65 279.4,782.97 280.18,783.29C280.96,783.61 281.74,783.92 282.52,784.23C283.31,784.55 284.09,784.86 284.87,785.17C285.66,785.48 286.44,785.79 287.23,786.1C288.01,786.41 288.8,786.72 289.58,787.04C290.36,787.36 291.14,787.67 291.92,788C292.7,788.32 293.48,788.65 294.25,788.98C295.02,789.32 295.8,789.65 296.56,790C297.33,790.35 298.09,790.71 298.85,791.07C299.61,791.43 300.37,791.8 301.12,792.18C301.87,792.56 302.62,792.95 303.36,793.34C304.11,793.73 304.85,794.13 305.59,794.52C306.34,794.92 307.07,795.33 307.81,795.73C308.55,796.13 309.29,796.54 310.03,796.94C310.76,797.35 311.5,797.75 312.24,798.16C312.98,798.56 313.72,798.96 314.46,799.36C315.2,799.76 315.94,800.15 316.68,800.54C317.43,800.93 318.18,801.31 318.93,801.69C319.68,802.07 320.43,802.44 321.19,802.8C321.94,803.16 322.7,803.52 323.47,803.86C324.23,804.21 325,804.55 325.77,804.89C326.53,805.22 327.31,805.55 328.08,805.87C328.86,806.19 329.63,806.5 330.41,806.81C331.2,807.11 331.98,807.41 332.76,807.7C333.55,808 334.34,808.28 335.13,808.56C335.92,808.84 336.71,809.11 337.51,809.38C338.3,809.64 339.1,809.9 339.9,810.16C340.7,810.41 341.51,810.65 342.31,810.89C343.11,811.13 343.92,811.37 344.73,811.59C345.54,811.82 346.35,812.04 347.16,812.25C347.97,812.47 348.79,812.67 349.6,812.87C350.42,813.08 351.24,813.27 352.06,813.46C352.88,813.65 353.7,813.83 354.52,814.01C355.34,814.18 356.16,814.35 356.99,814.52C357.81,814.68 358.64,814.84 359.47,814.99C360.29,815.15 361.12,815.29 361.95,815.43C362.78,815.57 363.61,815.71 364.45,815.84C365.28,815.96 366.11,816.09 366.94,816.2C367.78,816.32 368.61,816.43 369.45,816.54C370.28,816.65 371.12,816.75 371.95,816.84C372.79,816.93 373.62,817.02 374.46,817.11C375.3,817.19 376.14,817.27 376.97,817.34C377.81,817.41 378.65,817.48 379.49,817.54C380.33,817.6 381.16,817.66 382,817.71C382.84,817.76 383.68,817.81 384.52,817.85C385.36,817.89 386.19,817.93 387.03,817.96C387.87,817.99 388.71,818.01 389.55,818.03C390.38,818.05 391.22,818.07 392.06,818.08C392.89,818.09 394.15,818.09 394.57,818.09" stroke="#8dbb3e"/>
<path d="M49.74,847.65C50.17,847.75 51.47,848.1 52.33,848.28C53.18,848.47 54.04,848.61 54.88,848.74C55.73,848.86 56.58,848.95 57.42,849.02C58.26,849.09 59.09,849.13 59.92,849.14C60.76,849.16 61.59,849.15 62.41,849.13C63.24,849.1 64.06,849.05 64.89,848.99C65.71,848.92 66.53,848.84 67.35,848.74C68.17,848.64 68.98,848.52 69.8,848.39C70.61,848.26 71.43,848.12 72.24,847.96C73.06,847.81 73.87,847.64 74.68,847.47C75.5,847.3 76.31,847.12 77.13,846.93C77.94,846.74 78.75,846.55 79.57,846.35C80.39,846.16 81.2,845.96 82.02,845.76C82.84,845.56 83.66,845.36 84.48,845.16C85.31,844.96 86.13,844.76 86.96,844.57C87.78,844.38 88.62,844.19 89.45,844.01C90.28,843.83 91.12,843.65 91.95,843.47C92.79,843.29 93.62,843.12 94.46,842.94C95.29,842.76 96.13,842.58 96.96,842.4C97.8,842.21 98.63,842.02 99.45,841.82C100.28,841.62 101.1,841.42 101.92,841.2C102.74,840.98 103.55,840.76 104.36,840.51C105.16,840.27 105.96,840.01 106.75,839.73C107.54,839.46 108.32,839.17 109.09,838.85C109.86,838.54 110.62,838.21 111.38,837.85C112.13,837.49 112.87,837.11 113.6,836.72C114.33,836.32 115.04,835.9 115.75,835.47C116.46,835.03 117.16,834.58 117.85,834.11C118.54,833.64 119.22,833.16 119.89,832.66C120.57,832.16 121.23,831.64 121.88,831.12C122.53,830.59 123.17,830.05 123.81,829.5C124.44,828.95 125.07,828.39 125.69,827.82C126.31,827.25 126.91,826.67 127.52,826.08C128.12,825.49 128.71,824.9 129.3,824.29C129.88,823.69 130.46,823.09 131.03,822.47C131.6,821.86 132.16,821.24 132.71,820.62C133.27,819.99 133.82,819.36 134.36,818.73C134.9,818.09 135.43,817.45 135.95,816.8C136.48,816.16 137,815.5 137.51,814.85C138.02,814.19 138.53,813.53 139.03,812.86C139.53,812.19 140.02,811.52 140.5,810.85C140.99,810.17 141.47,809.49 141.94,808.8C142.41,808.12 142.88,807.43 143.34,806.73C143.8,806.04 144.26,805.34 144.71,804.64C145.16,803.93 145.6,803.23 146.04,802.52C146.47,801.81 146.91,801.09 147.33,800.37C147.76,799.65 148.18,798.93 148.6,798.21C149.01,797.48 149.42,796.75 149.83,796.02C150.23,795.29 150.63,794.55 151.03,793.81C151.43,793.07 151.82,792.33 152.2,791.58C152.59,790.84 152.97,790.09 153.35,789.34C153.73,788.59 154.1,787.84 154.47,787.08C154.84,786.32 155.2,785.56 155.56,784.8C155.92,784.04 156.28,783.28 156.63,782.51C156.99,781.75 157.34,780.98 157.68,780.21C158.03,779.44 158.37,778.67 158.71,777.89C159.04,777.12 159.38,776.34 159.71,775.56C160.04,774.79 160.37,774.01 160.7,773.23C161.02,772.45 161.35,771.67 161.67,770.88C161.99,770.1 162.3,769.32 162.62,768.53C162.93,767.75 163.24,766.96 163.55,766.17C163.86,765.38 164.17,764.6 164.47,763.81C164.78,763.02 165.08,762.23 165.38,761.44C165.68,760.65 165.98,759.86 166.28,759.07C166.58,758.28 166.87,757.49 167.16,756.7C167.46,755.91 167.75,755.12 168.04,754.32C168.33,753.53 168.62,752.74 168.91,751.95C169.2,751.16 169.48,750.37 169.77,749.58C170.05,748.79 170.34,748 170.62,747.21C170.91,746.43 171.19,745.64 171.47,744.85C171.75,744.06 172.03,743.27 172.31,742.49C172.59,741.7 172.87,740.91 173.15,740.12C173.42,739.33 173.7,738.55 173.97,737.76C174.25,736.97 174.52,736.19 174.8,735.4C175.07,734.61 175.34,733.82 175.61,733.04C175.88,732.25 176.15,731.46 176.42,730.67C176.69,729.89 176.96,729.1 177.23,728.31C177.49,727.52 177.76,726.73 178.02,725.95C178.29,725.16 178.55,724.37 178.82,723.58C179.08,722.79 179.34,722 179.6,721.21C179.86,720.42 180.12,719.63 180.38,718.84C180.64,718.05 180.9,717.26 181.15,716.46C181.41,715.67 181.67,714.88 181.92,714.08C182.17,713.29 182.43,712.5 182.68,711.7C182.93,710.91 183.18,710.11 183.43,709.31C183.68,708.52 183.93,707.72 184.18,706.92C184.43,706.12 184.68,705.32 184.92,704.52C185.17,703.72 185.42,702.92 185.66,702.12C185.9,701.32 186.15,700.51 186.39,699.71C186.63,698.9 186.87,698.1 187.11,697.29C187.35,696.48 187.59,695.67 187.83,694.86C188.07,694.06 188.31,693.24 188.54,692.43C188.78,691.62 189.01,690.81 189.25,689.99C189.48,689.18 189.71,688.36 189.95,687.54C190.18,686.72 190.41,685.9 190.64,685.08C190.87,684.26 191.1,683.44 191.33,682.62C191.55,681.79 191.78,680.96 192.01,680.14C192.23,679.31 192.46,678.48 192.69,677.66C192.92,676.83 193.15,676 193.39,675.18C193.63,674.36 193.87,673.54 194.11,672.73C194.36,671.91 194.62,671.1 194.88,670.3C195.15,669.49 195.42,668.7 195.7,667.91C195.99,667.12 196.28,666.34 196.59,665.57C196.9,664.8 197.22,664.04 197.56,663.29C197.9,662.54 198.25,661.8 198.62,661.08C198.99,660.36 199.38,659.65 199.79,658.95C200.2,658.26 200.62,657.5 201.08,656.92C201.54,656.35 202.02,655.69 202.56,655.5C203.11,655.32 203.77,655.5 204.34,655.82C204.91,656.14 205.5,656.78 206,657.42C206.5,658.06 206.92,658.85 207.33,659.66C207.74,660.47 208.09,661.39 208.46,662.28C208.83,663.17 209.17,664.12 209.55,665.01C209.94,665.89 210.32,666.8 210.77,667.59C211.22,668.38 211.69,669.14 212.26,669.76C212.82,670.37 213.48,670.9 214.17,671.25C214.87,671.61 215.69,671.83 216.42,671.87C217.14,671.9 217.87,671.76 218.52,671.47C219.17,671.18 219.75,670.7 220.3,670.15C220.86,669.6 221.36,668.9 221.86,668.16C222.35,667.43 222.81,666.58 223.27,665.75C223.73,664.92 224.18,664.02 224.64,663.17C225.1,662.32 225.56,661.45 226.06,660.67C226.55,659.9 227.06,659.14 227.62,658.51C228.18,657.89 228.76,657.32 229.41,656.94C230.06,656.56 230.8,656.25 231.52,656.21C232.25,656.18 233.06,656.35 233.77,656.74C234.48,657.12 235.14,657.94 235.79,658.54C236.45,659.14 237.05,659.94 237.68,660.33C238.3,660.72 238.92,660.9 239.54,660.89C240.16,660.88 240.78,660.61 241.4,660.28C242.02,659.95 242.63,659.42 243.25,658.89C243.86,658.36 244.48,657.72 245.08,657.12C245.69,656.51 246.3,655.88 246.89,655.24C247.48,654.6 248.06,653.95 248.63,653.29C249.19,652.63 249.74,651.96 250.27,651.28C250.8,650.6 251.31,649.92 251.8,649.22C252.28,648.53 252.74,647.83 253.16,647.13C253.59,646.42 253.98,645.71 254.36,645C254.74,644.29 255.08,643.57 255.43,642.84C255.79,642.12 256.12,641.39 256.47,640.66C256.83,639.92 257.18,639.18 257.57,638.44C257.95,637.69 258.35,636.94 258.8,636.18C259.25,635.42 259.72,634.66 260.25,633.89C260.79,633.12 261.39,632.28 262.02,631.57C262.64,630.86 263.35,630.07 263.99,629.64C264.64,629.21 265.3,628.9 265.88,628.99C266.45,629.07 266.96,629.62 267.44,630.16C267.92,630.7 268.34,631.51 268.76,632.22C269.18,632.93 269.56,633.67 269.94,634.41C270.31,635.15 270.66,635.91 270.99,636.67C271.33,637.44 271.64,638.21 271.95,639C272.25,639.78 272.54,640.57 272.82,641.37C273.09,642.17 273.36,642.97 273.61,643.78C273.87,644.59 274.12,645.4 274.36,646.22C274.6,647.04 274.83,647.86 275.07,648.68C275.3,649.5 275.53,650.32 275.76,651.15C275.99,651.97 276.21,652.79 276.44,653.61C276.67,654.43 276.9,655.25 277.14,656.07C277.37,656.89 277.61,657.7 277.86,658.51C278.1,659.32 278.36,660.13 278.62,660.93C278.88,661.73 279.15,662.53 279.43,663.32C279.72,664.11 280.01,664.89 280.32,665.67C280.63,666.44 280.95,667.21 281.29,667.97C281.63,668.73 281.98,669.48 282.36,670.22C282.73,670.96 283.12,671.69 283.54,672.41C283.95,673.12 284.39,673.83 284.85,674.52C285.31,675.21 285.8,675.89 286.31,676.56C286.82,677.22 287.35,677.88 287.91,678.51C288.47,679.15 289.06,679.76 289.66,680.36C290.27,680.96 290.89,681.54 291.54,682.09C292.18,682.65 292.85,683.19 293.53,683.69C294.21,684.2 294.91,684.69 295.62,685.15C296.34,685.6 297.07,686.03 297.81,686.43C298.55,686.83 299.3,687.2 300.07,687.54C300.83,687.88 301.61,688.18 302.39,688.45C303.17,688.72 303.96,688.96 304.76,689.16C305.55,689.35 306.36,689.51 307.16,689.63C307.97,689.76 308.78,689.84 309.6,689.89C310.41,689.94 311.23,689.96 312.05,689.95C312.87,689.95 313.7,689.91 314.53,689.85C315.36,689.8 316.19,689.71 317.02,689.62C317.85,689.52 318.69,689.4 319.52,689.27C320.36,689.14 321.19,689 322.03,688.85C322.87,688.7 323.71,688.53 324.54,688.37C325.38,688.21 326.22,688.04 327.06,687.87C327.9,687.71 328.73,687.54 329.57,687.38C330.4,687.21 331.24,687.05 332.07,686.89C332.91,686.74 333.74,686.58 334.57,686.43C335.41,686.27 336.24,686.12 337.07,685.98C337.9,685.83 338.73,685.69 339.57,685.55C340.4,685.4 341.23,685.27 342.06,685.13C342.89,685 343.72,684.87 344.55,684.74C345.38,684.62 346.21,684.49 347.03,684.37C347.86,684.25 348.69,684.14 349.52,684.03C350.35,683.92 351.18,683.81 352.01,683.71C352.84,683.61 353.66,683.51 354.49,683.42C355.32,683.32 356.15,683.24 356.98,683.15C357.81,683.07 358.64,682.99 359.47,682.92C360.3,682.85 361.13,682.78 361.96,682.72C362.78,682.65 363.61,682.6 364.45,682.55C365.28,682.5 366.11,682.45 366.94,682.41C367.77,682.37 368.6,682.34 369.43,682.31C370.27,682.28 371.1,682.26 371.93,682.25C372.76,682.23 373.6,682.23 374.43,682.23C375.27,682.22 376.1,682.23 376.94,682.24C377.78,682.25 378.61,682.27 379.45,682.3C380.29,682.33 381.13,682.36 381.97,682.4C382.81,682.44 383.65,682.49 384.49,682.55C385.33,682.6 386.17,682.67 387.02,682.74C387.86,682.81 388.71,682.89 389.55,682.98C390.4,683.06 391.25,683.16 392.1,683.26C392.95,683.37 394.22,683.55 394.65,683.6" stroke="#4a0c2e" stroke-dasharray="9 3.3 2.4 3.3"/>
<path d="M49.76,834.86C50.19,834.8 51.47,834.65 52.32,834.54C53.18,834.43 54.02,834.32 54.87,834.2C55.72,834.09 56.56,833.97 57.4,833.85C58.24,833.73 59.07,833.61 59.91,833.48C60.74,833.36 61.57,833.23 62.4,833.1C63.23,832.97 64.06,832.83 64.88,832.69C65.71,832.55 66.53,832.41 67.35,832.26C68.17,832.11 68.98,831.96 69.8,831.81C70.62,831.65 71.43,831.5 72.24,831.33C73.05,831.17 73.86,831 74.67,830.83C75.48,830.66 76.29,830.48 77.09,830.3C77.9,830.12 78.7,829.93 79.51,829.74C80.31,829.55 81.11,829.35 81.91,829.15C82.72,828.95 83.52,828.74 84.32,828.52C85.12,828.31 85.92,828.09 86.71,827.87C87.51,827.64 88.31,827.41 89.11,827.18C89.91,826.94 90.7,826.7 91.5,826.45C92.3,826.2 93.09,825.95 93.89,825.69C94.69,825.42 95.48,825.16 96.28,824.88C97.08,824.61 97.88,824.32 98.68,824.04C99.47,823.75 100.27,823.45 101.07,823.15C101.87,822.85 102.66,822.54 103.46,822.22C104.25,821.9 105.04,821.57 105.83,821.24C106.62,820.91 107.41,820.56 108.19,820.21C108.98,819.86 109.76,819.51 110.53,819.14C111.31,818.77 112.08,818.4 112.85,818.01C113.61,817.63 114.37,817.23 115.12,816.83C115.88,816.43 116.62,816.02 117.36,815.59C118.1,815.17 118.84,814.74 119.56,814.3C120.28,813.86 121,813.41 121.71,812.95C122.41,812.49 123.11,812.01 123.8,811.53C124.49,811.05 125.16,810.56 125.83,810.05C126.49,809.55 127.15,809.04 127.79,808.51C128.44,807.99 129.07,807.45 129.69,806.9C130.3,806.35 130.91,805.79 131.5,805.22C132.1,804.65 132.68,804.07 133.25,803.48C133.81,802.89 134.37,802.29 134.92,801.68C135.46,801.06 135.99,800.44 136.52,799.81C137.04,799.18 137.55,798.54 138.05,797.89C138.55,797.24 139.04,796.58 139.52,795.91C140,795.24 140.47,794.57 140.93,793.88C141.38,793.2 141.83,792.51 142.27,791.81C142.71,791.11 143.14,790.4 143.56,789.68C143.98,788.97 144.39,788.25 144.79,787.52C145.19,786.79 145.58,786.05 145.97,785.31C146.35,784.57 146.72,783.82 147.09,783.07C147.46,782.32 147.82,781.56 148.17,780.79C148.52,780.03 148.86,779.26 149.2,778.48C149.53,777.71 149.86,776.93 150.18,776.15C150.5,775.36 150.81,774.58 151.12,773.78C151.43,772.99 151.73,772.2 152.02,771.4C152.31,770.6 152.6,769.79 152.88,768.99C153.16,768.18 153.44,767.37 153.71,766.56C153.98,765.75 154.24,764.94 154.5,764.12C154.76,763.31 155.01,762.49 155.26,761.67C155.51,760.85 155.76,760.03 155.99,759.21C156.23,758.39 156.47,757.57 156.7,756.74C156.93,755.92 157.16,755.1 157.38,754.27C157.6,753.45 157.82,752.62 158.04,751.8C158.25,750.98 158.46,750.15 158.67,749.33C158.88,748.51 159.09,747.68 159.29,746.86C159.5,746.04 159.7,745.22 159.9,744.41C160.1,743.59 160.29,742.77 160.49,741.96C160.68,741.14 160.87,740.33 161.06,739.52C161.25,738.71 161.44,737.9 161.63,737.1C161.82,736.29 162,735.48 162.18,734.68C162.36,733.87 162.54,733.07 162.72,732.26C162.9,731.46 163.08,730.66 163.25,729.85C163.42,729.05 163.6,728.25 163.77,727.44C163.94,726.64 164.1,725.84 164.27,725.03C164.44,724.23 164.6,723.43 164.76,722.62C164.92,721.82 165.08,721.02 165.24,720.21C165.4,719.4 165.55,718.6 165.71,717.79C165.86,716.98 166.01,716.17 166.16,715.36C166.31,714.55 166.46,713.74 166.6,712.92C166.75,712.11 166.89,711.29 167.03,710.47C167.17,709.65 167.31,708.83 167.45,708.01C167.58,707.18 167.72,706.36 167.85,705.53C167.98,704.7 168.11,703.87 168.24,703.03C168.37,702.2 168.5,701.36 168.62,700.52C168.74,699.67 168.87,698.83 168.99,697.98C169.11,697.13 169.22,696.28 169.34,695.42C169.46,694.56 169.57,693.7 169.68,692.83C169.79,691.97 169.9,691.1 170.01,690.22C170.12,689.35 170.22,688.47 170.33,687.59C170.44,686.71 170.55,685.82 170.67,684.95C170.79,684.07 170.91,683.2 171.05,682.33C171.19,681.47 171.34,680.61 171.51,679.77C171.69,678.93 171.87,678.1 172.09,677.29C172.3,676.48 172.53,675.68 172.8,674.91C173.06,674.14 173.35,673.39 173.68,672.67C174.01,671.95 174.36,671.25 174.76,670.59C175.16,669.92 175.59,669.29 176.07,668.69C176.56,668.09 177.08,667.52 177.65,667.01C178.22,666.5 178.85,665.96 179.5,665.65C180.14,665.34 180.84,665.1 181.53,665.14C182.21,665.19 182.93,665.5 183.59,665.93C184.25,666.37 184.9,667.04 185.48,667.74C186.06,668.45 186.56,669.32 187.06,670.16C187.55,671.01 187.98,671.95 188.47,672.78C188.95,673.61 189.41,674.47 189.95,675.16C190.49,675.85 191.08,676.46 191.7,676.94C192.32,677.41 192.98,677.77 193.65,677.99C194.31,678.22 195.01,678.32 195.69,678.28C196.36,678.24 197.05,678.05 197.7,677.74C198.36,677.43 198.99,676.93 199.61,676.4C200.24,675.88 200.84,675.21 201.45,674.58C202.07,673.95 202.68,673.27 203.3,672.63C203.92,671.98 204.55,671.35 205.19,670.73C205.82,670.11 206.46,669.5 207.11,668.91C207.76,668.32 208.41,667.75 209.08,667.19C209.74,666.63 210.41,666.09 211.09,665.57C211.77,665.05 212.46,664.55 213.15,664.08C213.85,663.6 214.55,663.14 215.26,662.71C215.97,662.28 216.69,661.88 217.42,661.5C218.15,661.12 218.89,660.77 219.64,660.44C220.38,660.12 221.14,659.83 221.91,659.57C222.67,659.3 223.45,659.08 224.23,658.87C225.02,658.66 225.81,658.49 226.61,658.32C227.41,658.16 228.22,658.02 229.03,657.89C229.85,657.76 230.66,657.64 231.49,657.53C232.31,657.41 233.14,657.31 233.97,657.19C234.8,657.08 235.64,656.97 236.47,656.85C237.31,656.72 238.15,656.59 238.98,656.45C239.82,656.3 240.66,656.14 241.5,655.97C242.34,655.79 243.18,655.61 244.01,655.42C244.85,655.23 245.69,655.03 246.53,654.84C247.36,654.65 248.2,654.45 249.04,654.26C249.87,654.07 250.71,653.88 251.54,653.71C252.37,653.53 253.2,653.36 254.03,653.22C254.86,653.07 255.69,652.93 256.51,652.81C257.34,652.7 258.16,652.6 258.98,652.53C259.8,652.46 260.62,652.42 261.43,652.4C262.25,652.39 263.06,652.41 263.87,652.46C264.67,652.51 265.48,652.59 266.28,652.71C267.08,652.82 267.88,652.97 268.67,653.14C269.47,653.31 270.26,653.51 271.05,653.73C271.84,653.95 272.63,654.2 273.41,654.46C274.19,654.73 274.98,655.01 275.75,655.31C276.53,655.61 277.31,655.93 278.08,656.25C278.86,656.58 279.63,656.92 280.4,657.27C281.17,657.62 281.94,657.98 282.7,658.34C283.47,658.71 284.23,659.08 285,659.45C285.76,659.82 286.52,660.2 287.28,660.57C288.04,660.95 288.8,661.32 289.55,661.7C290.31,662.08 291.06,662.46 291.82,662.85C292.57,663.23 293.32,663.61 294.08,664C294.83,664.38 295.58,664.76 296.33,665.15C297.08,665.54 297.83,665.92 298.57,666.31C299.32,666.7 300.07,667.09 300.82,667.47C301.56,667.86 302.31,668.25 303.06,668.64C303.8,669.02 304.55,669.41 305.29,669.8C306.04,670.19 306.78,670.57 307.53,670.96C308.27,671.35 309.02,671.73 309.76,672.12C310.51,672.5 311.25,672.88 312,673.26C312.75,673.65 313.49,674.03 314.24,674.41C314.99,674.79 315.73,675.16 316.48,675.54C317.23,675.91 317.98,676.29 318.73,676.66C319.47,677.03 320.22,677.4 320.98,677.77C321.73,678.14 322.48,678.5 323.23,678.86C323.98,679.22 324.74,679.58 325.49,679.94C326.25,680.29 327.01,680.65 327.76,681C328.52,681.35 329.28,681.69 330.04,682.04C330.81,682.38 331.57,682.72 332.33,683.05C333.1,683.39 333.86,683.72 334.63,684.05C335.4,684.38 336.17,684.7 336.95,685.02C337.72,685.34 338.49,685.65 339.27,685.96C340.05,686.27 340.83,686.57 341.61,686.87C342.39,687.18 343.17,687.47 343.96,687.76C344.74,688.06 345.53,688.34 346.32,688.63C347.11,688.91 347.9,689.19 348.69,689.47C349.49,689.75 350.28,690.02 351.08,690.29C351.87,690.56 352.67,690.82 353.47,691.09C354.26,691.35 355.06,691.61 355.87,691.87C356.67,692.13 357.47,692.38 358.27,692.63C359.07,692.88 359.88,693.13 360.68,693.38C361.49,693.63 362.29,693.87 363.1,694.11C363.9,694.35 364.71,694.59 365.52,694.83C366.33,695.07 367.13,695.31 367.94,695.54C368.75,695.78 369.56,696.01 370.37,696.24C371.18,696.47 371.99,696.7 372.8,696.93C373.6,697.16 374.41,697.39 375.22,697.61C376.03,697.84 376.84,698.07 377.65,698.29C378.46,698.52 379.27,698.74 380.08,698.96C380.88,699.19 381.69,699.41 382.5,699.64C383.31,699.86 384.11,700.08 384.92,700.31C385.73,700.53 386.53,700.75 387.34,700.98C388.14,701.2 388.94,701.42 389.75,701.65C390.55,701.87 391.35,702.1 392.15,702.32C392.95,702.55 394.15,702.89 394.55,703" stroke="#f79a5b" stroke-dasharray="9 3.3 2.4 3.3"/>
<path d="M50.06,827.73C50.44,827.68 51.6,827.51 52.38,827.4C53.17,827.28 53.95,827.17 54.74,827.05C55.53,826.93 56.33,826.81 57.13,826.68C57.93,826.55 58.73,826.43 59.53,826.29C60.34,826.16 61.15,826.02 61.96,825.89C62.78,825.75 63.59,825.6 64.41,825.46C65.23,825.31 66.05,825.16 66.87,825C67.7,824.85 68.52,824.69 69.35,824.52C70.17,824.36 71,824.19 71.83,824.02C72.66,823.84 73.49,823.67 74.32,823.48C75.15,823.3 75.99,823.11 76.82,822.92C77.65,822.73 78.48,822.53 79.31,822.33C80.14,822.12 80.98,821.91 81.81,821.7C82.64,821.48 83.47,821.26 84.29,821.04C85.12,820.81 85.95,820.58 86.77,820.34C87.6,820.1 88.42,819.85 89.24,819.6C90.07,819.35 90.88,819.09 91.7,818.83C92.52,818.56 93.33,818.29 94.14,818.01C94.95,817.74 95.76,817.45 96.56,817.16C97.36,816.87 98.16,816.57 98.96,816.26C99.75,815.95 100.54,815.64 101.33,815.31C102.12,814.99 102.9,814.66 103.68,814.32C104.45,813.98 105.22,813.64 105.99,813.28C106.76,812.93 107.52,812.57 108.27,812.2C109.02,811.82 109.77,811.44 110.51,811.06C111.25,810.67 111.99,810.27 112.72,809.86C113.44,809.46 114.17,809.04 114.88,808.62C115.59,808.19 116.3,807.76 117,807.32C117.69,806.87 118.38,806.42 119.06,805.96C119.74,805.5 120.42,805.02 121.08,804.54C121.74,804.06 122.4,803.57 123.04,803.06C123.69,802.56 124.32,802.05 124.95,801.52C125.58,801 126.19,800.47 126.8,799.92C127.4,799.38 128,798.82 128.58,798.26C129.16,797.69 129.74,797.11 130.3,796.52C130.86,795.93 131.41,795.34 131.95,794.73C132.49,794.12 133.02,793.5 133.54,792.87C134.06,792.24 134.57,791.6 135.07,790.95C135.57,790.3 136.06,789.64 136.54,788.97C137.02,788.31 137.49,787.63 137.95,786.94C138.41,786.26 138.86,785.57 139.3,784.87C139.75,784.17 140.18,783.46 140.6,782.74C141.03,782.02 141.44,781.3 141.85,780.57C142.26,779.84 142.66,779.1 143.05,778.36C143.44,777.62 143.82,776.87 144.19,776.11C144.57,775.35 144.94,774.59 145.29,773.82C145.65,773.06 146.01,772.28 146.35,771.51C146.69,770.73 147.03,769.94 147.36,769.16C147.69,768.37 148.01,767.58 148.33,766.78C148.65,765.99 148.96,765.19 149.26,764.38C149.56,763.58 149.86,762.77 150.15,761.96C150.44,761.15 150.73,760.34 151.01,759.53C151.29,758.71 151.56,757.89 151.83,757.07C152.1,756.25 152.36,755.43 152.62,754.61C152.87,753.78 153.13,752.96 153.37,752.13C153.62,751.31 153.87,750.48 154.1,749.65C154.34,748.82 154.58,747.99 154.81,747.17C155.04,746.34 155.26,745.51 155.48,744.68C155.7,743.85 155.92,743.03 156.14,742.2C156.35,741.37 156.56,740.55 156.77,739.72C156.97,738.9 157.18,738.07 157.38,737.25C157.58,736.43 157.78,735.61 157.97,734.8C158.17,733.98 158.36,733.16 158.55,732.35C158.74,731.54 158.93,730.73 159.11,729.93C159.3,729.12 159.48,728.32 159.66,727.51C159.84,726.71 160.02,725.91 160.2,725.11C160.37,724.31 160.55,723.52 160.72,722.72C160.89,721.92 161.06,721.13 161.22,720.33C161.39,719.54 161.55,718.74 161.72,717.95C161.88,717.15 162.04,716.36 162.19,715.56C162.35,714.76 162.5,713.97 162.65,713.17C162.8,712.37 162.95,711.57 163.1,710.77C163.25,709.96 163.39,709.16 163.53,708.35C163.67,707.54 163.81,706.74 163.95,705.92C164.08,705.11 164.22,704.29 164.35,703.48C164.48,702.66 164.61,701.83 164.73,701.01C164.86,700.18 164.98,699.35 165.1,698.51C165.22,697.67 165.34,696.83 165.46,695.99C165.58,695.14 165.69,694.29 165.81,693.44C165.94,692.59 166.06,691.74 166.19,690.89C166.33,690.04 166.47,689.18 166.63,688.33C166.78,687.48 166.95,686.64 167.13,685.79C167.32,684.95 167.51,684.11 167.74,683.27C167.96,682.44 168.2,681.61 168.47,680.79C168.73,679.97 169.02,679.16 169.34,678.35C169.66,677.55 170.01,676.76 170.39,675.98C170.77,675.19 171.19,674.4 171.64,673.67C172.08,672.94 172.57,672.18 173.07,671.58C173.57,670.98 174.11,670.42 174.65,670.08C175.19,669.74 175.75,669.5 176.31,669.53C176.86,669.56 177.44,669.84 178,670.26C178.56,670.67 179.12,671.34 179.66,672.03C180.2,672.72 180.74,673.57 181.25,674.38C181.77,675.19 182.25,676.07 182.75,676.9C183.25,677.72 183.73,678.57 184.24,679.34C184.76,680.11 185.27,680.86 185.83,681.5C186.39,682.14 186.97,682.73 187.61,683.17C188.25,683.61 188.97,683.96 189.68,684.15C190.39,684.33 191.16,684.38 191.87,684.29C192.58,684.19 193.26,683.92 193.93,683.57C194.59,683.22 195.22,682.72 195.85,682.18C196.48,681.65 197.09,681 197.71,680.35C198.32,679.71 198.92,678.99 199.55,678.32C200.17,677.64 200.78,676.94 201.43,676.31C202.08,675.68 202.73,675.06 203.42,674.55C204.11,674.05 204.83,673.61 205.58,673.29C206.33,672.96 207.12,672.76 207.91,672.58C208.7,672.4 209.53,672.32 210.34,672.21C211.15,672.09 211.97,672.02 212.77,671.87C213.56,671.72 214.35,671.57 215.1,671.31C215.85,671.06 216.57,670.72 217.28,670.34C217.98,669.97 218.67,669.52 219.35,669.07C220.03,668.61 220.69,668.1 221.36,667.6C222.03,667.1 222.7,666.58 223.37,666.08C224.05,665.57 224.73,665.07 225.42,664.57C226.1,664.08 226.79,663.59 227.49,663.11C228.19,662.64 228.9,662.17 229.61,661.73C230.32,661.28 231.04,660.85 231.77,660.44C232.49,660.04 233.23,659.65 233.97,659.28C234.71,658.92 235.46,658.59 236.22,658.28C236.98,657.97 237.75,657.7 238.53,657.45C239.31,657.19 240.1,656.96 240.89,656.73C241.69,656.5 242.49,656.29 243.3,656.07C244.11,655.84 244.92,655.61 245.74,655.38C246.56,655.15 247.39,654.91 248.22,654.68C249.05,654.45 249.89,654.22 250.72,654C251.56,653.78 252.4,653.57 253.24,653.38C254.08,653.18 254.92,653 255.76,652.84C256.6,652.69 257.44,652.55 258.27,652.44C259.11,652.33 259.94,652.24 260.77,652.19C261.6,652.15 262.42,652.13 263.24,652.15C264.06,652.17 264.88,652.23 265.69,652.33C266.49,652.42 267.3,652.55 268.1,652.71C268.89,652.87 269.69,653.07 270.47,653.29C271.26,653.51 272.05,653.76 272.82,654.03C273.6,654.3 274.38,654.6 275.15,654.92C275.92,655.23 276.68,655.57 277.44,655.93C278.2,656.28 278.96,656.65 279.71,657.03C280.47,657.41 281.22,657.81 281.96,658.21C282.71,658.61 283.45,659.02 284.19,659.44C284.93,659.86 285.67,660.28 286.4,660.7C287.13,661.13 287.86,661.56 288.59,661.99C289.32,662.42 290.04,662.86 290.76,663.29C291.49,663.73 292.21,664.17 292.93,664.62C293.64,665.06 294.36,665.51 295.07,665.96C295.79,666.41 296.5,666.86 297.21,667.31C297.92,667.76 298.63,668.22 299.34,668.67C300.04,669.13 300.75,669.59 301.45,670.05C302.16,670.5 302.86,670.96 303.56,671.42C304.27,671.88 304.97,672.34 305.67,672.8C306.37,673.27 307.07,673.73 307.77,674.19C308.48,674.65 309.18,675.11 309.88,675.57C310.58,676.03 311.28,676.49 311.98,676.95C312.68,677.41 313.38,677.86 314.08,678.32C314.78,678.78 315.48,679.23 316.18,679.68C316.89,680.14 317.59,680.59 318.29,681.04C319,681.49 319.7,681.93 320.41,682.38C321.12,682.82 321.82,683.27 322.53,683.7C323.24,684.14 323.95,684.58 324.67,685.01C325.38,685.44 326.09,685.87 326.81,686.3C327.53,686.73 328.24,687.15 328.97,687.56C329.69,687.98 330.41,688.4 331.14,688.81C331.86,689.21 332.59,689.62 333.32,690.02C334.05,690.42 334.79,690.81 335.52,691.2C336.26,691.59 337,691.98 337.74,692.35C338.49,692.73 339.24,693.1 339.99,693.47C340.74,693.84 341.49,694.2 342.25,694.55C343.01,694.91 343.77,695.26 344.53,695.6C345.29,695.95 346.06,696.29 346.83,696.62C347.6,696.96 348.37,697.29 349.14,697.61C349.92,697.93 350.69,698.25 351.47,698.57C352.25,698.88 353.03,699.19 353.82,699.5C354.6,699.81 355.39,700.11 356.17,700.41C356.96,700.7 357.75,701 358.54,701.29C359.33,701.58 360.12,701.86 360.92,702.14C361.71,702.43 362.51,702.7 363.3,702.98C364.1,703.25 364.9,703.53 365.7,703.79C366.5,704.06 367.3,704.33 368.1,704.59C368.9,704.85 369.7,705.11 370.5,705.37C371.31,705.62 372.11,705.88 372.91,706.13C373.72,706.38 374.52,706.63 375.32,706.87C376.13,707.12 376.93,707.36 377.74,707.61C378.54,707.85 379.34,708.09 380.15,708.33C380.95,708.56 381.76,708.8 382.56,709.03C383.36,709.27 384.17,709.5 384.97,709.73C385.77,709.97 386.57,710.2 387.37,710.43C388.17,710.65 388.97,710.88 389.77,711.11C390.57,711.34 391.37,711.56 392.17,711.79C392.96,712.01 394.15,712.35 394.55,712.46" stroke="#5cc5e2" stroke-dasharray="9 3.3 2.4 3.3"/>
<path d="M49.83,818.44C50.24,818.37 51.47,818.17 52.3,818.03C53.12,817.89 53.94,817.75 54.77,817.6C55.59,817.45 56.42,817.3 57.25,817.15C58.07,816.99 58.9,816.83 59.73,816.67C60.56,816.5 61.38,816.33 62.21,816.16C63.04,815.99 63.87,815.81 64.69,815.63C65.52,815.45 66.35,815.26 67.17,815.07C68,814.88 68.82,814.69 69.65,814.49C70.47,814.29 71.3,814.09 72.12,813.88C72.94,813.67 73.76,813.46 74.58,813.24C75.39,813.03 76.21,812.81 77.02,812.58C77.84,812.36 78.65,812.13 79.46,811.89C80.27,811.66 81.08,811.42 81.88,811.17C82.69,810.93 83.49,810.68 84.28,810.43C85.08,810.18 85.88,809.92 86.67,809.66C87.46,809.4 88.25,809.13 89.04,808.86C89.83,808.59 90.61,808.32 91.39,808.04C92.18,807.76 92.96,807.48 93.74,807.19C94.52,806.91 95.3,806.62 96.08,806.33C96.86,806.03 97.64,805.74 98.42,805.44C99.21,805.14 99.99,804.84 100.77,804.53C101.55,804.23 102.33,803.92 103.12,803.61C103.9,803.3 104.69,802.99 105.48,802.67C106.27,802.36 107.06,802.04 107.86,801.72C108.65,801.4 109.45,801.08 110.25,800.76C111.05,800.43 111.86,800.11 112.66,799.77C113.46,799.44 114.26,799.1 115.05,798.75C115.84,798.4 116.62,798.04 117.39,797.65C118.15,797.27 118.9,796.87 119.64,796.45C120.37,796.03 121.08,795.59 121.77,795.13C122.46,794.66 123.13,794.18 123.79,793.68C124.45,793.18 125.08,792.66 125.71,792.12C126.33,791.58 126.93,791.03 127.52,790.46C128.11,789.88 128.68,789.3 129.24,788.69C129.81,788.09 130.35,787.48 130.88,786.85C131.42,786.22 131.94,785.57 132.44,784.92C132.95,784.26 133.45,783.59 133.93,782.92C134.42,782.24 134.89,781.55 135.36,780.85C135.82,780.15 136.28,779.44 136.72,778.73C137.17,778.01 137.61,777.29 138.04,776.56C138.47,775.83 138.9,775.09 139.31,774.35C139.73,773.61 140.14,772.86 140.55,772.11C140.96,771.36 141.36,770.61 141.76,769.85C142.15,769.09 142.55,768.33 142.94,767.57C143.33,766.81 143.72,766.05 144.11,765.29C144.49,764.52 144.88,763.76 145.26,762.99C145.64,762.23 146.02,761.46 146.39,760.7C146.76,759.93 147.14,759.16 147.5,758.39C147.87,757.62 148.23,756.85 148.59,756.08C148.95,755.31 149.31,754.54 149.66,753.77C150.01,753 150.36,752.22 150.7,751.45C151.05,750.67 151.38,749.9 151.72,749.12C152.05,748.34 152.38,747.57 152.7,746.79C153.03,746.01 153.35,745.23 153.66,744.45C153.97,743.67 154.28,742.89 154.58,742.11C154.88,741.33 155.18,740.54 155.47,739.76C155.76,738.97 156.04,738.19 156.32,737.4C156.6,736.62 156.87,735.83 157.13,735.04C157.4,734.26 157.66,733.47 157.91,732.68C158.16,731.89 158.41,731.1 158.64,730.31C158.88,729.51 159.11,728.72 159.33,727.93C159.56,727.13 159.77,726.34 159.99,725.54C160.2,724.75 160.41,723.95 160.61,723.15C160.81,722.35 161.01,721.55 161.21,720.75C161.41,719.95 161.6,719.15 161.79,718.34C161.99,717.54 162.18,716.73 162.37,715.92C162.56,715.11 162.75,714.3 162.94,713.49C163.13,712.68 163.33,711.86 163.52,711.04C163.72,710.22 163.91,709.4 164.12,708.58C164.32,707.76 164.52,706.93 164.73,706.1C164.94,705.28 165.15,704.45 165.37,703.61C165.59,702.78 165.81,701.94 166.05,701.1C166.28,700.26 166.52,699.42 166.76,698.57C167.01,697.72 167.27,696.87 167.53,696.02C167.8,695.16 168.07,694.31 168.35,693.45C168.64,692.59 168.93,691.71 169.24,690.85C169.55,690 169.87,689.13 170.23,688.33C170.58,687.53 170.94,686.73 171.35,686.03C171.76,685.34 172.19,684.67 172.68,684.13C173.16,683.59 173.67,683.12 174.24,682.79C174.82,682.47 175.44,682.26 176.11,682.18C176.77,682.1 177.49,682.16 178.22,682.31C178.94,682.47 179.7,682.77 180.47,683.09C181.23,683.41 182.02,683.85 182.81,684.26C183.6,684.66 184.4,685.14 185.21,685.54C186.01,685.95 186.82,686.37 187.62,686.68C188.42,686.99 189.23,687.26 190.02,687.39C190.81,687.52 191.59,687.53 192.36,687.45C193.14,687.36 193.9,687.14 194.67,686.89C195.44,686.65 196.2,686.3 196.97,685.96C197.74,685.62 198.52,685.22 199.31,684.86C200.1,684.51 200.9,684.15 201.71,683.82C202.52,683.49 203.35,683.19 204.17,682.89C204.99,682.58 205.81,682.29 206.62,681.99C207.43,681.68 208.23,681.38 209.02,681.06C209.8,680.74 210.58,680.41 211.34,680.07C212.11,679.73 212.86,679.38 213.6,679.02C214.35,678.67 215.08,678.3 215.81,677.93C216.54,677.56 217.27,677.18 217.99,676.8C218.71,676.41 219.42,676.02 220.13,675.63C220.85,675.24 221.56,674.84 222.27,674.43C222.98,674.03 223.69,673.63 224.4,673.22C225.12,672.81 225.83,672.4 226.55,671.99C227.27,671.58 227.99,671.16 228.72,670.75C229.45,670.34 230.19,669.92 230.93,669.51C231.68,669.1 232.43,668.69 233.18,668.29C233.94,667.88 234.7,667.48 235.47,667.09C236.23,666.7 237.01,666.31 237.78,665.93C238.56,665.56 239.34,665.19 240.13,664.84C240.92,664.48 241.71,664.14 242.51,663.82C243.3,663.49 244.1,663.18 244.91,662.88C245.71,662.59 246.52,662.31 247.33,662.05C248.14,661.8 248.95,661.56 249.76,661.34C250.58,661.13 251.39,660.94 252.21,660.77C253.03,660.6 253.85,660.46 254.68,660.34C255.5,660.22 256.32,660.12 257.15,660.05C257.97,659.97 258.8,659.91 259.63,659.88C260.45,659.85 261.28,659.83 262.11,659.84C262.94,659.85 263.77,659.87 264.59,659.92C265.42,659.96 266.25,660.02 267.08,660.1C267.91,660.18 268.74,660.28 269.56,660.4C270.39,660.51 271.22,660.64 272.04,660.79C272.87,660.94 273.69,661.1 274.51,661.27C275.34,661.45 276.16,661.64 276.98,661.85C277.8,662.05 278.61,662.27 279.43,662.5C280.24,662.73 281.06,662.97 281.87,663.22C282.68,663.48 283.48,663.74 284.29,664.02C285.09,664.29 285.89,664.58 286.69,664.87C287.49,665.16 288.29,665.47 289.08,665.78C289.87,666.09 290.65,666.41 291.44,666.74C292.22,667.06 293,667.4 293.77,667.74C294.55,668.08 295.32,668.42 296.08,668.78C296.85,669.13 297.61,669.48 298.36,669.84C299.12,670.2 299.87,670.57 300.61,670.94C301.36,671.3 302.1,671.68 302.83,672.06C303.57,672.44 304.3,672.82 305.02,673.21C305.75,673.61 306.47,674 307.19,674.41C307.91,674.82 308.63,675.23 309.34,675.65C310.05,676.07 310.76,676.5 311.47,676.94C312.17,677.37 312.88,677.82 313.58,678.26C314.28,678.71 314.99,679.16 315.69,679.61C316.39,680.06 317.1,680.52 317.8,680.97C318.5,681.42 319.21,681.87 319.92,682.32C320.62,682.77 321.33,683.22 322.04,683.66C322.75,684.11 323.47,684.55 324.18,684.99C324.9,685.43 325.61,685.87 326.33,686.3C327.05,686.74 327.77,687.17 328.49,687.6C329.21,688.03 329.94,688.46 330.66,688.89C331.38,689.32 332.11,689.74 332.84,690.16C333.57,690.58 334.3,691 335.03,691.42C335.76,691.84 336.49,692.25 337.22,692.67C337.96,693.08 338.69,693.49 339.43,693.9C340.17,694.3 340.91,694.71 341.65,695.11C342.38,695.52 343.13,695.92 343.87,696.32C344.61,696.71 345.35,697.11 346.1,697.5C346.84,697.9 347.59,698.29 348.34,698.68C349.08,699.07 349.83,699.45 350.58,699.84C351.33,700.22 352.08,700.6 352.83,700.98C353.59,701.36 354.34,701.74 355.09,702.11C355.85,702.49 356.6,702.86 357.36,703.23C358.12,703.6 358.88,703.96 359.64,704.33C360.4,704.69 361.16,705.05 361.92,705.41C362.68,705.77 363.44,706.13 364.21,706.48C364.97,706.84 365.73,707.19 366.5,707.54C367.27,707.88 368.04,708.23 368.8,708.57C369.57,708.92 370.34,709.26 371.11,709.6C371.88,709.93 372.66,710.27 373.43,710.6C374.2,710.93 374.98,711.26 375.75,711.59C376.53,711.92 377.31,712.24 378.08,712.56C378.86,712.88 379.64,713.2 380.42,713.52C381.2,713.83 381.98,714.15 382.76,714.46C383.55,714.77 384.33,715.08 385.11,715.38C385.9,715.68 386.68,715.99 387.47,716.28C388.26,716.58 389.05,716.88 389.84,717.17C390.63,717.47 391.42,717.76 392.21,718.04C393,718.33 394.19,718.75 394.58,718.89" stroke="#0a6412" stroke-dasharray="9 3.3 2.4 3.3"/>
<path d="M49.97,804.33C50.36,804.26 51.54,804.05 52.33,803.91C53.12,803.77 53.92,803.63 54.72,803.49C55.52,803.35 56.33,803.21 57.14,803.06C57.95,802.92 58.76,802.78 59.58,802.63C60.4,802.48 61.22,802.33 62.04,802.18C62.86,802.02 63.69,801.87 64.52,801.71C65.34,801.55 66.17,801.39 67,801.22C67.84,801.06 68.67,800.89 69.5,800.71C70.34,800.54 71.17,800.36 72,800.18C72.84,800 73.67,799.81 74.51,799.62C75.34,799.43 76.18,799.23 77.01,799.03C77.84,798.82 78.67,798.62 79.5,798.4C80.33,798.19 81.16,797.96 81.99,797.74C82.82,797.51 83.64,797.27 84.46,797.03C85.28,796.79 86.1,796.54 86.92,796.28C87.73,796.03 88.54,795.76 89.35,795.49C90.16,795.22 90.96,794.94 91.76,794.65C92.56,794.36 93.35,794.06 94.14,793.75C94.93,793.45 95.71,793.13 96.49,792.8C97.26,792.48 98.03,792.14 98.8,791.8C99.56,791.45 100.32,791.09 101.07,790.73C101.82,790.36 102.57,789.98 103.3,789.59C104.04,789.2 104.77,788.8 105.48,788.39C106.2,787.98 106.91,787.56 107.62,787.12C108.32,786.68 109.01,786.24 109.69,785.78C110.38,785.32 111.05,784.84 111.72,784.36C112.38,783.87 113.03,783.37 113.68,782.86C114.33,782.36 114.96,781.83 115.59,781.3C116.22,780.77 116.84,780.23 117.45,779.68C118.06,779.12 118.66,778.56 119.26,777.98C119.85,777.41 120.44,776.83 121.02,776.23C121.59,775.64 122.16,775.04 122.73,774.43C123.29,773.81 123.84,773.19 124.39,772.56C124.94,771.94 125.48,771.3 126.01,770.65C126.55,770.01 127.07,769.36 127.59,768.7C128.11,768.04 128.63,767.37 129.13,766.69C129.64,766.02 130.14,765.34 130.64,764.65C131.13,763.96 131.62,763.27 132.1,762.57C132.58,761.87 133.06,761.17 133.53,760.46C134,759.75 134.47,759.03 134.93,758.31C135.39,757.6 135.84,756.87 136.29,756.14C136.74,755.41 137.19,754.68 137.63,753.95C138.07,753.21 138.5,752.47 138.93,751.73C139.36,750.99 139.79,750.24 140.21,749.49C140.64,748.75 141.06,748 141.47,747.24C141.89,746.49 142.3,745.74 142.71,744.98C143.11,744.23 143.52,743.47 143.92,742.71C144.32,741.96 144.72,741.2 145.11,740.44C145.51,739.68 145.9,738.92 146.29,738.16C146.68,737.4 147.07,736.64 147.45,735.89C147.83,735.13 148.22,734.37 148.6,733.62C148.98,732.86 149.35,732.11 149.73,731.35C150.11,730.6 150.48,729.85 150.86,729.1C151.23,728.36 151.61,727.61 151.99,726.87C152.36,726.12 152.74,725.38 153.12,724.64C153.51,723.91 153.89,723.17 154.28,722.44C154.67,721.71 155.07,720.98 155.47,720.26C155.87,719.53 156.27,718.81 156.69,718.1C157.1,717.38 157.52,716.67 157.95,715.97C158.38,715.26 158.82,714.56 159.27,713.86C159.73,713.16 160.19,712.47 160.66,711.79C161.13,711.1 161.62,710.42 162.12,709.75C162.61,709.07 163.13,708.4 163.65,707.74C164.18,707.08 164.72,706.41 165.28,705.79C165.85,705.18 166.43,704.55 167.06,704.04C167.68,703.53 168.33,703.07 169.03,702.72C169.73,702.36 170.47,702.13 171.23,701.93C171.99,701.73 172.79,701.63 173.59,701.53C174.39,701.43 175.21,701.38 176.03,701.35C176.85,701.31 177.68,701.3 178.52,701.31C179.36,701.32 180.2,701.36 181.05,701.4C181.9,701.44 182.76,701.5 183.62,701.57C184.48,701.63 185.34,701.71 186.2,701.79C187.07,701.87 187.94,701.95 188.8,702.03C189.67,702.11 190.53,702.19 191.39,702.25C192.26,702.32 193.12,702.38 193.98,702.43C194.83,702.47 195.69,702.51 196.53,702.52C197.38,702.53 198.22,702.52 199.06,702.49C199.89,702.47 200.72,702.42 201.55,702.35C202.37,702.29 203.19,702.2 204.01,702.09C204.82,701.99 205.63,701.86 206.44,701.72C207.24,701.57 208.04,701.41 208.84,701.22C209.64,701.04 210.43,700.83 211.22,700.61C212.01,700.39 212.8,700.15 213.59,699.89C214.37,699.63 215.15,699.35 215.93,699.06C216.71,698.77 217.48,698.45 218.26,698.13C219.03,697.81 219.8,697.47 220.57,697.12C221.34,696.77 222.1,696.4 222.87,696.03C223.63,695.65 224.39,695.27 225.15,694.87C225.92,694.48 226.67,694.07 227.43,693.66C228.19,693.25 228.95,692.83 229.7,692.41C230.46,691.99 231.21,691.55 231.97,691.12C232.72,690.69 233.47,690.25 234.23,689.81C234.98,689.37 235.73,688.93 236.49,688.49C237.24,688.05 237.99,687.61 238.74,687.17C239.49,686.73 240.25,686.29 241,685.86C241.75,685.42 242.51,684.99 243.26,684.56C244.01,684.14 244.77,683.72 245.52,683.3C246.28,682.89 247.04,682.48 247.8,682.08C248.55,681.68 249.31,681.29 250.07,680.91C250.83,680.53 251.6,680.16 252.36,679.81C253.13,679.45 253.89,679.1 254.66,678.77C255.43,678.44 256.2,678.12 256.97,677.82C257.75,677.52 258.52,677.24 259.3,676.97C260.08,676.7 260.86,676.45 261.64,676.22C262.43,675.99 263.21,675.77 264,675.58C264.79,675.39 265.59,675.22 266.39,675.08C267.18,674.93 267.98,674.8 268.79,674.7C269.59,674.6 270.4,674.52 271.21,674.45C272.01,674.39 272.83,674.35 273.64,674.33C274.45,674.31 275.27,674.31 276.08,674.32C276.9,674.34 277.71,674.38 278.53,674.43C279.35,674.49 280.17,674.56 280.99,674.65C281.81,674.74 282.63,674.85 283.45,674.97C284.26,675.1 285.08,675.24 285.9,675.39C286.72,675.55 287.54,675.72 288.35,675.91C289.17,676.1 289.98,676.3 290.79,676.52C291.61,676.73 292.42,676.96 293.22,677.21C294.03,677.45 294.84,677.71 295.64,677.98C296.44,678.25 297.24,678.53 298.04,678.82C298.84,679.12 299.63,679.42 300.42,679.74C301.21,680.06 301.99,680.39 302.77,680.72C303.55,681.06 304.33,681.41 305.1,681.77C305.87,682.13 306.64,682.49 307.4,682.87C308.16,683.24 308.91,683.63 309.66,684.02C310.41,684.41 311.16,684.81 311.9,685.22C312.64,685.62 313.37,686.04 314.1,686.46C314.83,686.88 315.56,687.31 316.28,687.74C317,688.17 317.72,688.61 318.43,689.05C319.15,689.5 319.86,689.94 320.56,690.4C321.27,690.85 321.98,691.31 322.68,691.77C323.38,692.23 324.08,692.69 324.78,693.16C325.48,693.63 326.17,694.1 326.87,694.57C327.56,695.04 328.25,695.52 328.94,696C329.63,696.47 330.32,696.95 331.01,697.43C331.7,697.91 332.39,698.39 333.08,698.87C333.77,699.35 334.46,699.83 335.15,700.31C335.84,700.79 336.53,701.27 337.22,701.75C337.91,702.23 338.6,702.71 339.29,703.18C339.98,703.66 340.67,704.13 341.37,704.6C342.06,705.07 342.76,705.54 343.46,706.01C344.16,706.47 344.86,706.94 345.56,707.4C346.26,707.85 346.97,708.31 347.68,708.76C348.39,709.21 349.1,709.65 349.82,710.09C350.53,710.53 351.25,710.97 351.97,711.4C352.69,711.83 353.41,712.26 354.14,712.69C354.87,713.11 355.6,713.53 356.33,713.94C357.06,714.36 357.79,714.77 358.53,715.18C359.26,715.59 360,716 360.74,716.4C361.48,716.8 362.22,717.2 362.97,717.6C363.71,718 364.45,718.39 365.2,718.78C365.95,719.17 366.69,719.56 367.44,719.95C368.19,720.33 368.94,720.72 369.69,721.1C370.45,721.48 371.2,721.86 371.95,722.24C372.7,722.62 373.46,723 374.21,723.37C374.97,723.75 375.72,724.12 376.48,724.49C377.23,724.87 377.99,725.24 378.75,725.61C379.5,725.98 380.26,726.35 381.01,726.72C381.77,727.09 382.53,727.45 383.28,727.82C384.04,728.19 384.79,728.56 385.55,728.93C386.3,729.29 387.06,729.66 387.81,730.03C388.56,730.4 389.32,730.76 390.07,731.13C390.82,731.5 391.57,731.87 392.32,732.24C393.07,732.61 394.2,733.16 394.57,733.35" stroke="#8dbb3e" stroke-dasharray="9 3.3 2.4 3.3"/>
</g>
<line x1="222.35" y1="614.75" x2="222.35" y2="907.7" stroke="#000" stroke-width="2.3"/>
<path d="M92.9,616.75v2.5M92.9,906.7v-2.5M136.05,616.75v6.4M136.05,906.7v-6.4M179.2,616.75v2.5M179.2,906.7v-2.5M265.5,616.75v2.5M265.5,906.7v-2.5M308.65,616.75v6.4M308.65,906.7v-6.4M351.8,616.75v2.5M351.8,906.7v-2.5M50.7,854.6h2.5M394.05,854.6h-2.5M50.7,801.5h6.4M394.05,801.5h-6.4M50.7,748.4h2.5M394.05,748.4h-2.5M50.7,695.3h6.4M394.05,695.3h-6.4M50.7,642.2h2.5M394.05,642.2h-2.5" stroke="#000" stroke-width="2" fill="none"/>
<rect x="49.7" y="615.75" width="345.35" height="291.95" fill="none" stroke="#000" stroke-width="2.15"/>
<path d="M485.64,628.4L495.05,595.4M502.66,582.34L505.41,579.56M532.12,569.72L544.43,566.48M559.73,563.72L598.99,559.78M614.53,558.42L653.75,555.48M669.32,555.28L708.52,557.22" stroke="#6a0f6e" stroke-width="2.2" fill="none" stroke-dasharray="8.4 3.3 2.3 3.3"/>
<polygon points="483.5,629.4 484.95,633.89 489.68,633.89 485.86,636.67 487.32,641.16 483.5,638.38 479.67,641.16 481.13,636.67 477.31,633.89 482.04,633.89" fill="#6a0f6e" stroke="#6a0f6e" stroke-width="1.9" stroke-linejoin="round"/>
<polygon points="497.19,581.4 498.65,585.89 503.37,585.89 499.55,588.67 501.01,593.16 497.19,590.38 493.37,593.16 494.83,588.67 491.01,585.89 495.73,585.89" fill="#6a0f6e" stroke="#6a0f6e" stroke-width="1.9" stroke-linejoin="round"/>
<polygon points="510.88,567.5 512.34,571.99 517.07,571.99 513.25,574.77 514.71,579.26 510.88,576.48 507.06,579.26 508.52,574.77 504.7,571.99 509.43,571.99" fill="#6a0f6e" stroke="#6a0f6e" stroke-width="1.9" stroke-linejoin="round"/>
<polygon points="524.58,565.2 526.04,569.69 530.76,569.69 526.94,572.47 528.4,576.96 524.58,574.18 520.76,576.96 522.22,572.47 518.4,569.69 523.12,569.69" fill="#6a0f6e" stroke="#6a0f6e" stroke-width="1.9" stroke-linejoin="round"/>
<polygon points="551.97,558 553.43,562.49 558.15,562.49 554.33,565.27 555.79,569.76 551.97,566.98 548.15,569.76 549.61,565.27 545.79,562.49 550.51,562.49" fill="#6a0f6e" stroke="#6a0f6e" stroke-width="1.9" stroke-linejoin="round"/>
<polygon points="606.75,552.5 608.21,556.99 612.93,556.99 609.11,559.77 610.57,564.26 606.75,561.48 602.93,564.26 604.39,559.77 600.57,556.99 605.29,556.99" fill="#6a0f6e" stroke="#6a0f6e" stroke-width="1.9" stroke-linejoin="round"/>
<polygon points="661.53,548.4 662.99,552.89 667.71,552.89 663.89,555.67 665.35,560.16 661.53,557.38 657.71,560.16 659.17,555.67 655.35,552.89 660.07,552.89" fill="#6a0f6e" stroke="#6a0f6e" stroke-width="1.9" stroke-linejoin="round"/>
<polygon points="716.31,551.1 717.77,555.59 722.49,555.59 718.67,558.37 720.13,562.86 716.31,560.08 712.49,562.86 713.95,558.37 710.13,555.59 714.85,555.59" fill="#6a0f6e" stroke="#6a0f6e" stroke-width="1.9" stroke-linejoin="round"/>
<path d="M487.81,638.9L492.87,631.3M500.14,617.58L507.93,598.52M516.82,596.37L518.65,597.93M531.8,600.05L544.75,594.75M559.75,592.4L598.97,595.4M614.52,595.36L653.76,592.14M669.32,591.14L708.52,589.36" stroke="#6a0f6e" stroke-width="2.2" fill="none" stroke-dasharray="8.4 3.3 2.3 3.3"/>
<polygon points="483.5,638.9 484.95,643.39 489.68,643.39 485.86,646.17 487.32,650.66 483.5,647.88 479.67,650.66 481.13,646.17 477.31,643.39 482.04,643.39" fill="#fff" stroke="#6a0f6e" stroke-width="1.9" stroke-linejoin="round"/>
<polygon points="497.19,618.3 498.65,622.79 503.37,622.79 499.55,625.57 501.01,630.06 497.19,627.28 493.37,630.06 494.83,625.57 491.01,622.79 495.73,622.79" fill="#fff" stroke="#6a0f6e" stroke-width="1.9" stroke-linejoin="round"/>
<polygon points="510.88,584.8 512.34,589.29 517.07,589.29 513.25,592.07 514.71,596.56 510.88,593.78 507.06,596.56 508.52,592.07 504.7,589.29 509.43,589.29" fill="#fff" stroke="#6a0f6e" stroke-width="1.9" stroke-linejoin="round"/>
<polygon points="524.58,596.5 526.04,600.99 530.76,600.99 526.94,603.77 528.4,608.26 524.58,605.48 520.76,608.26 522.22,603.77 518.4,600.99 523.12,600.99" fill="#fff" stroke="#6a0f6e" stroke-width="1.9" stroke-linejoin="round"/>
<polygon points="551.97,585.3 553.43,589.79 558.15,589.79 554.33,592.57 555.79,597.06 551.97,594.28 548.15,597.06 549.61,592.57 545.79,589.79 550.51,589.79" fill="#fff" stroke="#6a0f6e" stroke-width="1.9" stroke-linejoin="round"/>
<polygon points="606.75,589.5 608.21,593.99 612.93,593.99 609.11,596.77 610.57,601.26 606.75,598.48 602.93,601.26 604.39,596.77 600.57,593.99 605.29,593.99" fill="#fff" stroke="#6a0f6e" stroke-width="1.9" stroke-linejoin="round"/>
<polygon points="661.53,585 662.99,589.49 667.71,589.49 663.89,592.27 665.35,596.76 661.53,593.98 657.71,596.76 659.17,592.27 655.35,589.49 660.07,589.49" fill="#fff" stroke="#6a0f6e" stroke-width="1.9" stroke-linejoin="round"/>
<polygon points="716.31,582.5 717.77,586.99 722.49,586.99 718.67,589.77 720.13,594.26 716.31,591.48 712.49,594.26 713.95,589.77 710.13,586.99 714.85,586.99" fill="#fff" stroke="#6a0f6e" stroke-width="1.9" stroke-linejoin="round"/>
<path d="M485.68,622.81L495,590.89M500.69,576.43L507.39,563.07M532.29,549.61L544.26,551.49M559.59,551.03L599.13,542.37M614.3,542.66L653.98,552.94M669.3,555.61L708.54,559.19" stroke="#8dbb3e" stroke-width="2.2" fill="none" stroke-dasharray="8.4 3.3 2.3 3.3"/>
<polygon points="483.5,623.8 484.95,628.29 489.68,628.29 485.86,631.07 487.32,635.56 483.5,632.78 479.67,635.56 481.13,631.07 477.31,628.29 482.04,628.29" fill="#8dbb3e" stroke="#8dbb3e" stroke-width="1.9" stroke-linejoin="round"/>
<polygon points="497.19,576.9 498.65,581.39 503.37,581.39 499.55,584.17 501.01,588.66 497.19,585.88 493.37,588.66 494.83,584.17 491.01,581.39 495.73,581.39" fill="#8dbb3e" stroke="#8dbb3e" stroke-width="1.9" stroke-linejoin="round"/>
<polygon points="510.88,549.6 512.34,554.09 517.07,554.09 513.25,556.87 514.71,561.36 510.88,558.58 507.06,561.36 508.52,556.87 504.7,554.09 509.43,554.09" fill="#8dbb3e" stroke="#8dbb3e" stroke-width="1.9" stroke-linejoin="round"/>
<polygon points="524.58,541.9 526.04,546.39 530.76,546.39 526.94,549.17 528.4,553.66 524.58,550.88 520.76,553.66 522.22,549.17 518.4,546.39 523.12,546.39" fill="#8dbb3e" stroke="#8dbb3e" stroke-width="1.9" stroke-linejoin="round"/>
<polygon points="551.97,546.2 553.43,550.69 558.15,550.69 554.33,553.47 555.79,557.96 551.97,555.18 548.15,557.96 549.61,553.47 545.79,550.69 550.51,550.69" fill="#8dbb3e" stroke="#8dbb3e" stroke-width="1.9" stroke-linejoin="round"/>
<polygon points="606.75,534.2 608.21,538.69 612.93,538.69 609.11,541.47 610.57,545.96 606.75,543.18 602.93,545.96 604.39,541.47 600.57,538.69 605.29,538.69" fill="#8dbb3e" stroke="#8dbb3e" stroke-width="1.9" stroke-linejoin="round"/>
<polygon points="661.53,548.4 662.99,552.89 667.71,552.89 663.89,555.67 665.35,560.16 661.53,557.38 657.71,560.16 659.17,555.67 655.35,552.89 660.07,552.89" fill="#8dbb3e" stroke="#8dbb3e" stroke-width="1.9" stroke-linejoin="round"/>
<polygon points="716.31,553.4 717.77,557.89 722.49,557.89 718.67,560.67 720.13,565.16 716.31,562.38 712.49,565.16 713.95,560.67 710.13,557.89 714.85,557.89" fill="#8dbb3e" stroke="#8dbb3e" stroke-width="1.9" stroke-linejoin="round"/>
<path d="M486.93,659.6L493.75,645.7M499.77,631.34L508.31,606.96M515.71,605.73L519.76,610.87M531.46,613.33L545.09,606.07M559.72,601.55L599,597.25M614.53,595.82L653.75,592.88M669.33,592.21L708.51,591.79" stroke="#8dbb3e" stroke-width="2.2" fill="none" stroke-dasharray="8.4 3.3 2.3 3.3"/>
<polygon points="483.5,660.1 484.95,664.59 489.68,664.59 485.86,667.37 487.32,671.86 483.5,669.08 479.67,671.86 481.13,667.37 477.31,664.59 482.04,664.59" fill="#fff" stroke="#8dbb3e" stroke-width="1.9" stroke-linejoin="round"/>
<polygon points="497.19,632.2 498.65,636.69 503.37,636.69 499.55,639.47 501.01,643.96 497.19,641.18 493.37,643.96 494.83,639.47 491.01,636.69 495.73,636.69" fill="#fff" stroke="#8dbb3e" stroke-width="1.9" stroke-linejoin="round"/>
<polygon points="510.88,593.1 512.34,597.59 517.07,597.59 513.25,600.37 514.71,604.86 510.88,602.08 507.06,604.86 508.52,600.37 504.7,597.59 509.43,597.59" fill="#fff" stroke="#8dbb3e" stroke-width="1.9" stroke-linejoin="round"/>
<polygon points="524.58,610.5 526.04,614.99 530.76,614.99 526.94,617.77 528.4,622.26 524.58,619.48 520.76,622.26 522.22,617.77 518.4,614.99 523.12,614.99" fill="#fff" stroke="#8dbb3e" stroke-width="1.9" stroke-linejoin="round"/>
<polygon points="551.97,595.9 553.43,600.39 558.15,600.39 554.33,603.17 555.79,607.66 551.97,604.88 548.15,607.66 549.61,603.17 545.79,600.39 550.51,600.39" fill="#fff" stroke="#8dbb3e" stroke-width="1.9" stroke-linejoin="round"/>
<polygon points="606.75,589.9 608.21,594.39 612.93,594.39 609.11,597.17 610.57,601.66 606.75,598.88 602.93,601.66 604.39,597.17 600.57,594.39 605.29,594.39" fill="#fff" stroke="#8dbb3e" stroke-width="1.9" stroke-linejoin="round"/>
<polygon points="661.53,585.8 662.99,590.29 667.71,590.29 663.89,593.07 665.35,597.56 661.53,594.78 657.71,597.56 659.17,593.07 655.35,590.29 660.07,590.29" fill="#fff" stroke="#8dbb3e" stroke-width="1.9" stroke-linejoin="round"/>
<polygon points="716.31,585.2 717.77,589.69 722.49,589.69 718.67,592.47 720.13,596.96 716.31,594.18 712.49,596.96 713.95,592.47 710.13,589.69 714.85,589.69" fill="#fff" stroke="#8dbb3e" stroke-width="1.9" stroke-linejoin="round"/>
<path d="M767.43,620.81L776.75,588.89M783.7,575.22L787.88,569.78M796.51,556.83L802.45,546.47M813.53,536.7L826.52,531.3" stroke="#6a0f6e" stroke-width="2.2" fill="none" stroke-dasharray="8.4 3.3 2.3 3.3"/>
<polygon points="765.25,621.8 766.7,626.29 771.43,626.29 767.61,629.07 769.07,633.56 765.25,630.78 761.42,633.56 762.88,629.07 759.06,626.29 763.79,626.29" fill="#6a0f6e" stroke="#6a0f6e" stroke-width="1.9" stroke-linejoin="round"/>
<polygon points="778.94,574.9 780.4,579.39 785.12,579.39 781.3,582.17 782.76,586.66 778.94,583.88 775.12,586.66 776.58,582.17 772.76,579.39 777.48,579.39" fill="#6a0f6e" stroke="#6a0f6e" stroke-width="1.9" stroke-linejoin="round"/>
<polygon points="792.63,557.1 794.09,561.59 798.82,561.59 795,564.37 796.46,568.86 792.63,566.08 788.81,568.86 790.27,564.37 786.45,561.59 791.18,561.59" fill="#6a0f6e" stroke="#6a0f6e" stroke-width="1.9" stroke-linejoin="round"/>
<polygon points="806.33,533.2 807.79,537.69 812.51,537.69 808.69,540.47 810.15,544.96 806.33,542.18 802.51,544.96 803.97,540.47 800.15,537.69 804.87,537.69" fill="#6a0f6e" stroke="#6a0f6e" stroke-width="1.9" stroke-linejoin="round"/>
<polygon points="833.72,521.8 835.18,526.29 839.9,526.29 836.08,529.07 837.54,533.56 833.72,530.78 829.9,533.56 831.36,529.07 827.54,526.29 832.26,526.29" fill="#6a0f6e" stroke="#6a0f6e" stroke-width="1.9" stroke-linejoin="round"/>
<path d="M767.06,667.81L777.13,625.59M781.64,610.68L789.93,588.22M796.36,587.75L802.61,599.25M812.65,601.53L827.4,590.87" stroke="#6a0f6e" stroke-width="2.2" fill="none" stroke-dasharray="8.4 3.3 2.3 3.3"/>
<polygon points="765.25,668.9 766.7,673.39 771.43,673.39 767.61,676.17 769.07,680.66 765.25,677.88 761.42,680.66 762.88,676.17 759.06,673.39 763.79,673.39" fill="#fff" stroke="#6a0f6e" stroke-width="1.9" stroke-linejoin="round"/>
<polygon points="778.94,611.5 780.4,615.99 785.12,615.99 781.3,618.77 782.76,623.26 778.94,620.48 775.12,623.26 776.58,618.77 772.76,615.99 777.48,615.99" fill="#fff" stroke="#6a0f6e" stroke-width="1.9" stroke-linejoin="round"/>
<polygon points="792.63,574.4 794.09,578.89 798.82,578.89 795,581.67 796.46,586.16 792.63,583.38 788.81,586.16 790.27,581.67 786.45,578.89 791.18,578.89" fill="#fff" stroke="#6a0f6e" stroke-width="1.9" stroke-linejoin="round"/>
<polygon points="806.33,599.6 807.79,604.09 812.51,604.09 808.69,606.87 810.15,611.36 806.33,608.58 802.51,611.36 803.97,606.87 800.15,604.09 804.87,604.09" fill="#fff" stroke="#6a0f6e" stroke-width="1.9" stroke-linejoin="round"/>
<polygon points="833.72,579.8 835.18,584.29 839.9,584.29 836.08,587.07 837.54,591.56 833.72,588.78 829.9,591.56 831.36,587.07 827.54,584.29 832.26,584.29" fill="#fff" stroke="#6a0f6e" stroke-width="1.9" stroke-linejoin="round"/>
<path d="M766.62,656.62L777.56,595.68M798.15,579.88L800.82,577.22M813.63,568.95L826.42,564.15" stroke="#8dbb3e" stroke-width="2.2" fill="none" stroke-dasharray="8.4 3.3 2.3 3.3"/>
<polygon points="765.25,657.8 766.7,662.29 771.43,662.29 767.61,665.07 769.07,669.56 765.25,666.78 761.42,669.56 762.88,665.07 759.06,662.29 763.79,662.29" fill="#8dbb3e" stroke="#8dbb3e" stroke-width="1.9" stroke-linejoin="round"/>
<polygon points="778.94,581.5 780.4,585.99 785.12,585.99 781.3,588.77 782.76,593.26 778.94,590.48 775.12,593.26 776.58,588.77 772.76,585.99 777.48,585.99" fill="#8dbb3e" stroke="#8dbb3e" stroke-width="1.9" stroke-linejoin="round"/>
<polygon points="792.63,578.9 794.09,583.39 798.82,583.39 795,586.17 796.46,590.66 792.63,587.88 788.81,590.66 790.27,586.17 786.45,583.39 791.18,583.39" fill="#8dbb3e" stroke="#8dbb3e" stroke-width="1.9" stroke-linejoin="round"/>
<polygon points="806.33,565.2 807.79,569.69 812.51,569.69 808.69,572.47 810.15,576.96 806.33,574.18 802.51,576.96 803.97,572.47 800.15,569.69 804.87,569.69" fill="#8dbb3e" stroke="#8dbb3e" stroke-width="1.9" stroke-linejoin="round"/>
<polygon points="833.72,554.9 835.18,559.39 839.9,559.39 836.08,562.17 837.54,566.66 833.72,563.88 829.9,566.66 831.36,562.17 827.54,559.39 832.26,559.39" fill="#8dbb3e" stroke="#8dbb3e" stroke-width="1.9" stroke-linejoin="round"/>
<path d="M781.75,615.53L789.82,594.67M795.66,594.59L803.31,612.81M812.04,614.69L828.01,599.81" stroke="#8dbb3e" stroke-width="2.2" fill="none" stroke-dasharray="8.4 3.3 2.3 3.3"/>
<polygon points="765.25,608.8 766.7,613.29 771.43,613.29 767.61,616.07 769.07,620.56 765.25,617.78 761.42,620.56 762.88,616.07 759.06,613.29 763.79,613.29" fill="#fff" stroke="#8dbb3e" stroke-width="1.9" stroke-linejoin="round"/>
<polygon points="778.94,616.3 780.4,620.79 785.12,620.79 781.3,623.57 782.76,628.06 778.94,625.28 775.12,628.06 776.58,623.57 772.76,620.79 777.48,620.79" fill="#fff" stroke="#8dbb3e" stroke-width="1.9" stroke-linejoin="round"/>
<polygon points="792.63,580.9 794.09,585.39 798.82,585.39 795,588.17 796.46,592.66 792.63,589.88 788.81,592.66 790.27,588.17 786.45,585.39 791.18,585.39" fill="#fff" stroke="#8dbb3e" stroke-width="1.9" stroke-linejoin="round"/>
<polygon points="806.33,613.5 807.79,617.99 812.51,617.99 808.69,620.77 810.15,625.26 806.33,622.48 802.51,625.26 803.97,620.77 800.15,617.99 804.87,617.99" fill="#fff" stroke="#8dbb3e" stroke-width="1.9" stroke-linejoin="round"/>
<polygon points="833.72,588 835.18,592.49 839.9,592.49 836.08,595.27 837.54,599.76 833.72,596.98 829.9,599.76 831.36,595.27 827.54,592.49 832.26,592.49" fill="#fff" stroke="#8dbb3e" stroke-width="1.9" stroke-linejoin="round"/>
<path d="M497.19,517v3.6M497.19,724v-3.6M524.58,517v6.6M524.58,724v-6.6M551.97,517v3.6M551.97,724v-3.6M579.36,517v6.6M579.36,724v-6.6M606.75,517v3.6M606.75,724v-3.6M634.14,517v6.6M634.14,724v-6.6M661.53,517v3.6M661.53,724v-3.6M688.92,517v6.6M688.92,724v-6.6M716.31,517v3.6M716.31,724v-3.6M469.8,524.5h7.2M743.15,524.5h-7.2M469.8,590.9h7.2M743.15,590.9h-7.2M469.8,570.91h3.4M743.15,570.91h-3.4M469.8,559.22h3.4M743.15,559.22h-3.4M469.8,550.92h3.4M743.15,550.92h-3.4M469.8,544.49h3.4M743.15,544.49h-3.4M469.8,539.23h3.4M743.15,539.23h-3.4M469.8,534.79h3.4M743.15,534.79h-3.4M469.8,530.93h3.4M743.15,530.93h-3.4M469.8,527.54h3.4M743.15,527.54h-3.4M469.8,657.3h7.2M743.15,657.3h-7.2M469.8,637.31h3.4M743.15,637.31h-3.4M469.8,625.62h3.4M743.15,625.62h-3.4M469.8,617.32h3.4M743.15,617.32h-3.4M469.8,610.89h3.4M743.15,610.89h-3.4M469.8,605.63h3.4M743.15,605.63h-3.4M469.8,601.19h3.4M743.15,601.19h-3.4M469.8,597.33h3.4M743.15,597.33h-3.4M469.8,593.94h3.4M743.15,593.94h-3.4M469.8,703.71h3.4M743.15,703.71h-3.4M469.8,692.02h3.4M743.15,692.02h-3.4M469.8,683.72h3.4M743.15,683.72h-3.4M469.8,677.29h3.4M743.15,677.29h-3.4M469.8,672.03h3.4M743.15,672.03h-3.4M469.8,667.59h3.4M743.15,667.59h-3.4M469.8,663.73h3.4M743.15,663.73h-3.4M469.8,660.34h3.4M743.15,660.34h-3.4M778.94,516.1v3.6M778.94,723.3v-3.6M806.33,516.1v6.6M806.33,723.3v-6.6M833.72,516.1v3.6M833.72,723.3v-3.6M861.11,516.1v6.6M861.11,723.3v-6.6M888.5,516.1v3.6M888.5,723.3v-3.6M915.89,516.1v6.6M915.89,723.3v-6.6M943.28,516.1v3.6M943.28,723.3v-3.6M970.67,516.1v6.6M970.67,723.3v-6.6M998.06,516.1v3.6M998.06,723.3v-3.6M751.55,523.8h7.2M751.55,590h7.2M751.55,570.07h3.4M751.55,558.41h3.4M751.55,550.14h3.4M751.55,543.73h3.4M751.55,538.49h3.4M751.55,534.05h3.4M751.55,530.22h3.4M751.55,526.83h3.4M751.55,656.2h7.2M751.55,636.27h3.4M751.55,624.61h3.4M751.55,616.34h3.4M751.55,609.93h3.4M751.55,604.69h3.4M751.55,600.25h3.4M751.55,596.42h3.4M751.55,593.03h3.4M751.55,702.47h3.4M751.55,690.81h3.4M751.55,682.54h3.4M751.55,676.13h3.4M751.55,670.89h3.4M751.55,666.45h3.4M751.55,662.62h3.4M751.55,659.23h3.4" stroke="#000" stroke-width="2" fill="none"/>
<line x1="469.8" y1="590.9" x2="743.15" y2="590.9" stroke="#a0a0a0" stroke-opacity="0.7" stroke-width="1.8"/>
<line x1="751.55" y1="589.9" x2="830" y2="589.9" stroke="#a0a0a0" stroke-opacity="0.7" stroke-width="1.2"/>
<rect x="469.8" y="517" width="273.35" height="207" fill="none" stroke="#000" stroke-width="2.15"/>
<rect x="751.55" y="516.1" width="273.9" height="207.2" fill="none" stroke="#000" stroke-width="2.15"/>
<path d="M638.9,627H647.2M661.9,627H669.9" stroke="#6a0f6e" stroke-width="2.3" fill="none"/>
<polygon points="654.5,620.5 655.96,624.99 660.68,624.99 656.86,627.77 658.32,632.26 654.5,629.48 650.68,632.26 652.14,627.77 648.32,624.99 653.04,624.99" fill="#6a0f6e" stroke="#6a0f6e" stroke-width="1.9" stroke-linejoin="round"/>
<path d="M638.9,651.8H647.2M661.9,651.8H669.9" stroke="#6a0f6e" stroke-width="2.3" fill="none"/>
<polygon points="654.5,645.3 655.96,649.79 660.68,649.79 656.86,652.57 658.32,657.06 654.5,654.28 650.68,657.06 652.14,652.57 648.32,649.79 653.04,649.79" fill="#fff" stroke="#6a0f6e" stroke-width="1.9" stroke-linejoin="round"/>
<path d="M638.9,676.6H647.2M661.9,676.6H669.9" stroke="#8dbb3e" stroke-width="2.3" fill="none"/>
<polygon points="654.5,670.1 655.96,674.59 660.68,674.59 656.86,677.37 658.32,681.86 654.5,679.08 650.68,681.86 652.14,677.37 648.32,674.59 653.04,674.59" fill="#8dbb3e" stroke="#8dbb3e" stroke-width="1.9" stroke-linejoin="round"/>
<path d="M638.9,701.4H647.2M661.9,701.4H669.9" stroke="#8dbb3e" stroke-width="2.3" fill="none"/>
<polygon points="654.5,694.9 655.96,699.39 660.68,699.39 656.86,702.17 658.32,706.66 654.5,703.88 650.68,706.66 652.14,702.17 648.32,699.39 653.04,699.39" fill="#fff" stroke="#8dbb3e" stroke-width="1.9" stroke-linejoin="round"/>
<g clip-path="url(#cc)" fill="none" stroke="#2c18ec" stroke-width="2.2" stroke-linejoin="round">
<path d="M542.72,866.41C543.12,866.36 544.32,866.24 545.13,866.13C545.94,866.03 546.76,865.89 547.59,865.76C548.42,865.62 549.26,865.47 550.1,865.32C550.95,865.17 551.79,865.01 552.65,864.86C553.5,864.71 554.35,864.56 555.21,864.43C556.06,864.3 556.92,864.17 557.77,864.07C558.62,863.97 559.48,863.88 560.33,863.83C561.18,863.77 562.02,863.73 562.86,863.74C563.7,863.74 564.54,863.77 565.36,863.85C566.19,863.93 567.01,864.04 567.81,864.21C568.62,864.38 569.42,864.6 570.2,864.85C570.99,865.11 571.77,865.42 572.54,865.73C573.32,866.05 574.09,866.4 574.87,866.73C575.65,867.06 576.43,867.4 577.22,867.71C578,868.03 578.8,868.33 579.6,868.62C580.39,868.91 581.2,869.19 582,869.46C582.81,869.73 583.62,869.99 584.43,870.23C585.24,870.48 586.05,870.72 586.87,870.95C587.68,871.18 588.5,871.39 589.32,871.61C590.13,871.82 590.95,872.02 591.76,872.22C592.58,872.41 593.39,872.6 594.2,872.78C595.01,872.97 595.82,873.14 596.63,873.31C597.43,873.49 598.24,873.65 599.05,873.81C599.86,873.97 600.66,874.12 601.47,874.27C602.29,874.41 603.1,874.55 603.92,874.69C604.74,874.82 605.56,874.95 606.39,875.07C607.22,875.19 608.06,875.3 608.91,875.41C609.75,875.52 610.61,875.62 611.47,875.72C612.33,875.82 613.21,875.91 614.09,875.99C614.97,876.06 615.87,876.14 616.75,876.18C617.64,876.22 618.53,876.26 619.41,876.25C620.29,876.25 621.17,876.22 622.03,876.15C622.89,876.09 623.74,875.99 624.57,875.84C625.39,875.69 626.21,875.5 626.99,875.26C627.77,875.01 628.53,874.72 629.26,874.36C629.98,874 630.68,873.58 631.33,873.1C631.98,872.61 632.6,872.05 633.17,871.42C633.74,870.79 634.26,870.05 634.75,869.31C635.25,868.57 635.69,867.73 636.14,866.99C636.59,866.25 637.01,865.47 637.46,864.84C637.92,864.22 638.36,863.73 638.86,863.25C639.35,862.78 639.86,862.5 640.42,861.98C640.98,861.47 641.57,860.68 642.22,860.17C642.87,859.65 643.57,859.09 644.33,858.89C645.09,858.68 645.93,858.83 646.78,858.94C647.63,859.04 648.58,859.26 649.41,859.51C650.24,859.75 651.13,859.9 651.75,860.4C652.37,860.91 652.73,861.75 653.14,862.53C653.54,863.3 653.71,864.4 654.18,865.07C654.64,865.74 655.22,866.32 655.94,866.55C656.66,866.78 657.7,866.64 658.52,866.46C659.33,866.28 660.15,865.91 660.81,865.49C661.47,865.08 662.01,864.56 662.49,863.97C662.96,863.38 663.33,862.7 663.67,861.95C664,861.2 664.26,860.37 664.5,859.47C664.74,858.58 664.93,857.6 665.12,856.59C665.31,855.59 665.48,854.39 665.66,853.42C665.83,852.45 666,851.35 666.16,850.76C666.32,850.17 666.47,849.77 666.61,849.86C666.75,849.95 666.88,850.57 667.01,851.3C667.13,852.03 667.25,853.17 667.36,854.24C667.47,855.32 667.57,856.62 667.67,857.72C667.77,858.83 667.86,859.9 667.95,860.87C668.04,861.84 668.12,862.72 668.2,863.56C668.29,864.41 668.37,865.18 668.45,865.95C668.53,866.72 668.61,867.43 668.69,868.17C668.77,868.91 668.85,869.63 668.94,870.39C669.03,871.15 669.11,871.92 669.23,872.72C669.35,873.52 669.48,874.35 669.67,875.2C669.85,876.05 670.07,876.95 670.35,877.85C670.64,878.74 671.01,879.84 671.38,880.59C671.76,881.34 672.21,882.17 672.59,882.36C672.97,882.55 673.34,882.21 673.68,881.72C674.01,881.22 674.3,880.22 674.58,879.39C674.86,878.56 675.12,877.63 675.35,876.75C675.59,875.87 675.81,874.99 676.01,874.12C676.21,873.24 676.39,872.37 676.55,871.5C676.72,870.63 676.86,869.77 677,868.9C677.13,868.04 677.25,867.18 677.36,866.32C677.47,865.46 677.56,864.61 677.65,863.76C677.73,862.9 677.8,862.05 677.87,861.21C677.93,860.36 677.99,859.51 678.04,858.67C678.09,857.83 678.13,856.99 678.16,856.16C678.2,855.32 678.23,854.49 678.26,853.66C678.28,852.83 678.31,852 678.33,851.18C678.35,850.35 678.37,849.53 678.39,848.72C678.41,847.9 678.43,847.08 678.45,846.27C678.47,845.46 678.5,844.65 678.52,843.84C678.55,843.04 678.58,842.24 678.62,841.44C678.66,840.64 678.7,839.84 678.75,839.05C678.8,838.25 678.86,837.46 678.92,836.65C678.99,835.84 679.07,835.03 679.16,834.2C679.25,833.37 679.35,832.53 679.46,831.65C679.58,830.78 679.71,829.89 679.86,828.96C680.01,828.03 680.17,827.05 680.35,826.07C680.53,825.1 680.75,823.87 680.95,823.12C681.15,822.38 681.36,821.63 681.53,821.58C681.7,821.53 681.86,822.1 681.96,822.83C682.07,823.56 682.15,824.84 682.17,825.95C682.19,827.07 682.13,828.41 682.11,829.52C682.08,830.63 681.95,831.71 682.01,832.6C682.06,833.49 682.11,834.3 682.45,834.87C682.78,835.45 683.34,835.77 684.01,836.05C684.69,836.33 685.75,836.25 686.49,836.55C687.23,836.86 687.91,837.29 688.44,837.87C688.98,838.45 689.33,839.27 689.71,840.05C690.08,840.82 690.37,841.69 690.68,842.52C690.99,843.35 691.28,844.19 691.57,845.01C691.87,845.84 692.15,846.67 692.44,847.49C692.74,848.31 693.03,849.12 693.34,849.92C693.66,850.71 693.98,851.5 694.32,852.26C694.67,853.03 695.04,853.77 695.44,854.49C695.84,855.21 696.27,855.91 696.74,856.57C697.21,857.24 697.72,857.87 698.26,858.49C698.8,859.1 699.37,859.69 699.97,860.26C700.56,860.84 701.18,861.39 701.81,861.93C702.45,862.48 703.1,863.01 703.76,863.53C704.42,864.05 705.09,864.57 705.78,865.07C706.46,865.57 707.16,866.07 707.86,866.55C708.57,867.03 709.29,867.5 710.01,867.95C710.74,868.4 711.47,868.85 712.21,869.27C712.96,869.7 713.71,870.11 714.47,870.51C715.22,870.91 715.99,871.29 716.76,871.65C717.53,872.01 718.31,872.36 719.1,872.69C719.88,873.01 720.67,873.32 721.47,873.61C722.26,873.9 723.06,874.17 723.86,874.42C724.67,874.67 725.47,874.89 726.28,875.1C727.09,875.31 727.9,875.49 728.72,875.66C729.54,875.83 730.35,875.98 731.18,876.12C732,876.26 732.82,876.37 733.65,876.48C734.47,876.59 735.3,876.68 736.13,876.76C736.96,876.84 737.79,876.91 738.63,876.97C739.46,877.03 740.3,877.08 741.13,877.12C741.97,877.17 742.81,877.2 743.65,877.23C744.49,877.26 745.33,877.28 746.17,877.31C747.01,877.33 747.85,877.34 748.69,877.36C749.53,877.38 750.38,877.39 751.22,877.4C752.06,877.42 752.9,877.43 753.75,877.45C754.59,877.47 755.43,877.48 756.28,877.5C757.12,877.52 757.96,877.54 758.8,877.56C759.65,877.58 760.49,877.6 761.33,877.62C762.17,877.64 763.02,877.66 763.86,877.69C764.7,877.71 765.55,877.74 766.39,877.77C767.23,877.8 768.07,877.83 768.91,877.86C769.76,877.89 770.6,877.93 771.44,877.96C772.28,878 773.12,878.04 773.97,878.08C774.81,878.12 775.65,878.16 776.49,878.21C777.33,878.26 778.17,878.31 779.01,878.36C779.85,878.41 780.69,878.47 781.53,878.52C782.37,878.58 783.21,878.64 784.05,878.71C784.89,878.78 785.73,878.84 786.57,878.92C787.4,878.99 788.24,879.06 789.08,879.14C789.92,879.22 790.75,879.31 791.59,879.4C792.43,879.48 793.26,879.57 794.1,879.67C794.94,879.77 795.77,879.87 796.6,879.97C797.44,880.08 798.27,880.19 799.11,880.3C799.94,880.42 800.77,880.54 801.6,880.66C802.44,880.79 803.27,880.92 804.1,881.05C804.93,881.19 805.76,881.33 806.59,881.47C807.42,881.62 808.25,881.77 809.08,881.93C809.9,882.08 810.73,882.25 811.56,882.41C812.38,882.58 813.21,882.76 814.04,882.94C814.86,883.12 816.1,883.41 816.51,883.5" stroke-dasharray="9.6 3.3 2.4 3.3"/>
<path d="M542.72,862.03C543.14,862.04 544.4,862.06 545.24,862.09C546.08,862.13 546.92,862.17 547.76,862.23C548.6,862.29 549.43,862.36 550.27,862.44C551.1,862.52 551.94,862.62 552.77,862.72C553.6,862.82 554.44,862.93 555.27,863.05C556.1,863.17 556.93,863.3 557.76,863.44C558.59,863.58 559.42,863.73 560.25,863.88C561.07,864.03 561.9,864.19 562.73,864.36C563.55,864.53 564.38,864.7 565.21,864.88C566.03,865.06 566.86,865.24 567.68,865.43C568.5,865.62 569.33,865.81 570.15,866.01C570.98,866.21 571.8,866.41 572.62,866.61C573.44,866.81 574.27,867.02 575.09,867.23C575.91,867.43 576.73,867.64 577.56,867.85C578.38,868.06 579.2,868.28 580.02,868.49C580.84,868.7 581.66,868.91 582.49,869.12C583.31,869.33 584.13,869.53 584.95,869.74C585.77,869.95 586.59,870.15 587.42,870.35C588.24,870.56 589.06,870.76 589.88,870.95C590.71,871.15 591.53,871.34 592.35,871.52C593.18,871.71 594,871.89 594.82,872.07C595.65,872.25 596.47,872.42 597.3,872.58C598.12,872.75 598.95,872.9 599.77,873.05C600.6,873.21 601.43,873.35 602.25,873.48C603.08,873.62 603.91,873.74 604.74,873.86C605.57,873.98 606.39,874.09 607.23,874.18C608.06,874.28 608.89,874.37 609.72,874.45C610.55,874.52 611.38,874.59 612.22,874.64C613.05,874.69 613.89,874.74 614.72,874.76C615.56,874.79 616.4,874.81 617.24,874.81C618.07,874.81 618.91,874.8 619.76,874.77C620.6,874.75 621.44,874.7 622.28,874.65C623.13,874.59 623.97,874.52 624.82,874.43C625.66,874.34 626.51,874.23 627.36,874.11C628.21,873.99 629.06,873.84 629.9,873.71C630.75,873.57 631.59,873.41 632.43,873.27C633.26,873.13 634.09,872.99 634.9,872.87C635.71,872.75 636.51,872.65 637.3,872.56C638.08,872.46 638.85,872.46 639.6,872.3C640.35,872.14 641.09,871.9 641.82,871.61C642.56,871.31 643.29,870.89 644.04,870.52C644.79,870.15 645.53,869.72 646.32,869.4C647.1,869.08 647.92,868.81 648.75,868.6C649.58,868.38 650.44,868.25 651.29,868.11C652.14,867.96 653.01,867.87 653.85,867.72C654.69,867.57 655.53,867.44 656.32,867.21C657.11,866.98 657.89,866.73 658.61,866.36C659.32,865.98 660,865.53 660.6,864.96C661.2,864.39 661.76,863.72 662.23,862.95C662.7,862.19 663.05,861.24 663.44,860.38C663.83,859.53 664.08,858.5 664.54,857.82C665,857.15 665.52,856.55 666.18,856.34C666.83,856.14 667.79,856.34 668.48,856.62C669.18,856.9 669.8,857.46 670.36,858.05C670.92,858.63 671.36,859.4 671.84,860.15C672.31,860.89 672.73,861.74 673.22,862.51C673.72,863.27 674.23,864.09 674.81,864.72C675.4,865.35 676.19,866.04 676.75,866.28C677.31,866.52 677.84,866.51 678.17,866.16C678.5,865.81 678.62,865.03 678.72,864.17C678.83,863.32 678.79,862.15 678.81,861.04C678.83,859.92 678.8,858.63 678.84,857.49C678.89,856.36 678.99,855.17 679.1,854.23C679.21,853.29 679.36,852.39 679.48,851.82C679.61,851.26 679.75,850.88 679.86,850.83C679.98,850.77 680.07,851.03 680.16,851.47C680.25,851.91 680.32,852.63 680.38,853.48C680.45,854.32 680.5,855.39 680.54,856.53C680.59,857.67 680.62,858.98 680.65,860.3C680.68,861.63 680.71,863.07 680.73,864.47C680.75,865.87 680.77,867.34 680.79,868.72C680.81,870.09 680.83,871.48 680.85,872.72C680.88,873.97 680.9,875.17 680.94,876.17C680.98,877.18 681.03,878.09 681.09,878.76C681.15,879.42 681.22,879.94 681.31,880.16C681.4,880.38 681.5,880.38 681.63,880.07C681.75,879.76 681.89,879.06 682.08,878.3C682.27,877.54 682.48,876.45 682.77,875.51C683.06,874.57 683.41,873.39 683.82,872.67C684.23,871.95 684.72,871.24 685.21,871.18C685.7,871.12 686.22,871.76 686.76,872.29C687.31,872.82 687.88,873.7 688.47,874.38C689.07,875.06 689.7,875.75 690.34,876.39C690.98,877.02 691.64,877.62 692.31,878.18C692.98,878.74 693.67,879.26 694.37,879.75C695.07,880.23 695.79,880.68 696.52,881.09C697.25,881.5 697.99,881.88 698.74,882.22C699.49,882.56 700.25,882.87 701.02,883.15C701.79,883.43 702.57,883.67 703.36,883.89C704.15,884.1 704.95,884.29 705.76,884.45C706.56,884.6 707.38,884.73 708.2,884.83C709.01,884.94 709.84,885.01 710.67,885.06C711.5,885.11 712.33,885.14 713.17,885.14C714.01,885.15 714.85,885.12 715.69,885.08C716.53,885.04 717.38,884.98 718.22,884.9C719.07,884.81 719.92,884.71 720.76,884.59C721.61,884.47 722.45,884.33 723.3,884.18C724.14,884.03 724.98,883.85 725.82,883.67C726.66,883.49 727.5,883.28 728.33,883.08C729.16,882.87 729.99,882.64 730.82,882.42C731.64,882.19 732.47,881.95 733.29,881.72C734.11,881.48 734.93,881.24 735.75,881.01C736.57,880.78 737.38,880.54 738.2,880.32C739.01,880.1 739.82,879.88 740.64,879.68C741.45,879.47 742.26,879.28 743.07,879.1C743.88,878.93 744.69,878.77 745.5,878.63C746.31,878.49 747.13,878.37 747.94,878.29C748.75,878.2 749.56,878.13 750.37,878.1C751.19,878.06 752,878.06 752.82,878.09C753.63,878.11 754.45,878.17 755.27,878.25C756.09,878.33 756.9,878.44 757.72,878.57C758.54,878.7 759.36,878.86 760.18,879.03C761,879.2 761.82,879.4 762.64,879.61C763.46,879.82 764.28,880.05 765.1,880.29C765.92,880.53 766.74,880.79 767.56,881.06C768.38,881.32 769.19,881.6 770.01,881.89C770.83,882.17 771.65,882.47 772.46,882.76C773.28,883.06 774.09,883.37 774.91,883.67C775.72,883.97 776.53,884.28 777.34,884.59C778.15,884.89 778.96,885.2 779.77,885.5C780.58,885.8 781.38,886.1 782.19,886.39C783,886.68 783.8,886.97 784.6,887.25C785.41,887.53 786.21,887.8 787.02,888.07C787.82,888.33 788.62,888.59 789.43,888.84C790.23,889.09 791.03,889.33 791.84,889.55C792.64,889.78 793.45,890 794.26,890.2C795.06,890.4 795.87,890.59 796.68,890.76C797.49,890.93 798.3,891.09 799.11,891.24C799.92,891.38 800.74,891.51 801.56,891.61C802.37,891.72 803.19,891.81 804.01,891.88C804.84,891.95 805.66,892 806.49,892.03C807.32,892.06 808.15,892.07 808.98,892.05C809.82,892.04 810.66,892 811.5,891.94C812.34,891.87 813.19,891.79 814.04,891.67C814.89,891.56 816.18,891.32 816.6,891.25"/>
<path d="M542.76,932.1C543.16,932.1 544.34,932.1 545.14,932.07C545.94,932.05 546.76,932.01 547.58,931.95C548.4,931.9 549.23,931.84 550.07,931.76C550.91,931.69 551.75,931.61 552.6,931.52C553.45,931.43 554.31,931.34 555.17,931.24C556.03,931.15 556.89,931.05 557.76,930.95C558.62,930.86 559.49,930.76 560.36,930.66C561.23,930.57 562.1,930.48 562.97,930.4C563.84,930.32 564.71,930.24 565.58,930.18C566.45,930.12 567.32,930.06 568.19,930.02C569.05,929.98 569.91,929.95 570.77,929.94C571.63,929.93 572.48,929.93 573.33,929.96C574.17,929.98 575.02,930.03 575.85,930.1C576.68,930.16 577.51,930.25 578.33,930.37C579.15,930.49 579.96,930.63 580.76,930.8C581.56,930.97 582.35,931.17 583.13,931.39C583.92,931.61 584.7,931.85 585.47,932.11C586.25,932.36 587.02,932.64 587.79,932.92C588.56,933.21 589.33,933.51 590.1,933.81C590.87,934.12 591.64,934.43 592.42,934.75C593.2,935.06 593.98,935.38 594.77,935.69C595.56,936 596.35,936.32 597.15,936.62C597.96,936.92 598.77,937.22 599.59,937.51C600.42,937.79 601.25,938.06 602.09,938.32C602.94,938.57 603.79,938.81 604.65,939.03C605.5,939.24 606.36,939.44 607.22,939.61C608.08,939.77 608.94,939.92 609.79,940.03C610.65,940.14 611.5,940.23 612.35,940.27C613.19,940.31 614.03,940.33 614.86,940.3C615.68,940.27 616.5,940.2 617.3,940.08C618.1,939.97 618.88,939.81 619.65,939.6C620.41,939.39 621.16,939.14 621.89,938.83C622.61,938.52 623.31,938.15 623.99,937.73C624.66,937.31 625.3,936.82 625.93,936.29C626.56,935.76 627.15,935.16 627.74,934.54C628.33,933.93 628.9,933.26 629.47,932.59C630.04,931.92 630.6,931.21 631.17,930.51C631.73,929.82 632.3,929.1 632.88,928.41C633.47,927.72 634.06,927.02 634.67,926.37C635.29,925.71 635.93,925.06 636.59,924.48C637.25,923.9 637.94,923.33 638.64,922.87C639.34,922.4 640.06,921.98 640.79,921.69C641.51,921.4 642.25,921.18 642.99,921.12C643.72,921.05 644.46,921.1 645.19,921.31C645.92,921.53 646.65,921.91 647.35,922.41C648.05,922.9 648.75,923.57 649.39,924.28C650.04,924.99 650.65,925.92 651.24,926.69C651.83,927.46 652.36,928.41 652.92,928.91C653.48,929.41 654.02,929.79 654.59,929.7C655.17,929.6 655.77,928.99 656.38,928.35C656.99,927.71 657.63,926.66 658.25,925.85C658.87,925.05 659.52,924.04 660.12,923.52C660.71,923.01 661.3,922.62 661.82,922.75C662.33,922.88 662.79,923.61 663.23,924.3C663.68,925 664.05,926.06 664.46,926.91C664.88,927.76 665.23,928.67 665.72,929.4C666.21,930.14 666.72,930.85 667.38,931.34C668.04,931.83 668.93,932.24 669.69,932.33C670.45,932.43 671.32,932.29 671.96,931.89C672.6,931.49 673.1,930.73 673.54,929.94C673.97,929.16 674.28,928.13 674.57,927.2C674.85,926.27 675.06,925.28 675.25,924.39C675.44,923.49 675.58,922.64 675.7,921.8C675.82,920.97 675.9,920.18 675.97,919.4C676.04,918.61 676.08,917.86 676.12,917.09C676.16,916.33 676.18,915.58 676.21,914.82C676.24,914.05 676.25,913.29 676.29,912.5C676.32,911.71 676.35,910.92 676.41,910.08C676.46,909.24 676.53,908.38 676.62,907.47C676.72,906.56 676.84,905.62 676.99,904.61C677.15,903.61 677.34,902.5 677.57,901.44C677.8,900.39 678.08,899.22 678.4,898.3C678.72,897.37 679.08,896.45 679.49,895.9C679.9,895.36 680.38,894.98 680.88,895.02C681.38,895.06 682.01,895.6 682.51,896.14C683.01,896.69 683.51,897.54 683.89,898.29C684.26,899.04 684.53,899.84 684.78,900.65C685.02,901.45 685.19,902.29 685.37,903.13C685.56,903.97 685.71,904.82 685.9,905.67C686.09,906.52 686.29,907.37 686.52,908.22C686.75,909.06 687.01,909.9 687.29,910.73C687.57,911.55 687.87,912.37 688.21,913.16C688.55,913.96 688.91,914.74 689.31,915.5C689.7,916.25 690.13,916.99 690.59,917.68C691.05,918.38 691.55,919.06 692.08,919.69C692.61,920.33 693.18,920.93 693.79,921.49C694.39,922.04 695.05,922.55 695.72,923.04C696.4,923.52 697.11,923.96 697.84,924.39C698.56,924.83 699.31,925.23 700.06,925.64C700.8,926.05 701.57,926.45 702.31,926.86C703.06,927.28 703.8,927.71 704.54,928.14C705.27,928.58 705.99,929.03 706.72,929.48C707.44,929.94 708.15,930.4 708.86,930.87C709.57,931.33 710.28,931.8 710.99,932.27C711.7,932.74 712.4,933.21 713.11,933.67C713.82,934.13 714.53,934.6 715.24,935.05C715.95,935.5 716.66,935.95 717.38,936.39C718.1,936.82 718.83,937.25 719.56,937.66C720.29,938.07 721.03,938.47 721.78,938.84C722.53,939.22 723.29,939.58 724.06,939.92C724.83,940.27 725.6,940.59 726.39,940.89C727.17,941.19 727.96,941.47 728.76,941.72C729.56,941.98 730.36,942.21 731.17,942.42C731.98,942.63 732.8,942.81 733.62,942.97C734.44,943.13 735.27,943.26 736.1,943.37C736.93,943.47 737.76,943.55 738.6,943.59C739.44,943.64 740.28,943.66 741.12,943.65C741.96,943.63 742.8,943.58 743.65,943.51C744.49,943.44 745.33,943.32 746.18,943.21C747.03,943.09 747.87,942.95 748.72,942.83C749.56,942.7 750.41,942.57 751.26,942.47C752.1,942.36 752.95,942.27 753.79,942.22C754.64,942.16 755.48,942.14 756.33,942.14C757.17,942.13 758.01,942.16 758.85,942.2C759.7,942.24 760.54,942.3 761.38,942.37C762.22,942.45 763.06,942.54 763.9,942.64C764.73,942.74 765.57,942.85 766.41,942.97C767.25,943.09 768.08,943.21 768.92,943.34C769.75,943.46 770.59,943.6 771.42,943.74C772.26,943.87 773.09,944.01 773.92,944.16C774.75,944.3 775.59,944.45 776.42,944.6C777.25,944.75 778.08,944.91 778.91,945.06C779.74,945.22 780.58,945.37 781.41,945.53C782.24,945.69 783.07,945.85 783.9,946.01C784.73,946.16 785.56,946.32 786.39,946.48C787.22,946.64 788.05,946.8 788.88,946.95C789.71,947.11 790.54,947.26 791.37,947.41C792.21,947.56 793.04,947.71 793.87,947.86C794.7,948 795.53,948.15 796.37,948.29C797.2,948.42 798.03,948.56 798.87,948.69C799.7,948.82 800.53,948.94 801.37,949.06C802.2,949.18 803.04,949.29 803.88,949.4C804.71,949.5 805.55,949.6 806.39,949.69C807.23,949.79 808.07,949.87 808.91,949.95C809.75,950.02 810.59,950.09 811.43,950.15C812.28,950.21 813.12,950.26 813.97,950.3C814.81,950.34 816.08,950.37 816.51,950.39" stroke-dasharray="9.6 3.3 2.4 3.3"/>
<path d="M542.72,931.07C543.14,931.05 544.38,931.02 545.22,930.99C546.05,930.96 546.89,930.92 547.72,930.87C548.56,930.83 549.4,930.78 550.24,930.72C551.08,930.67 551.93,930.61 552.77,930.55C553.62,930.49 554.46,930.43 555.31,930.37C556.15,930.31 557,930.25 557.85,930.19C558.69,930.14 559.54,930.08 560.39,930.03C561.24,929.97 562.08,929.93 562.93,929.88C563.78,929.84 564.63,929.8 565.47,929.78C566.32,929.75 567.17,929.73 568.01,929.71C568.86,929.7 569.7,929.7 570.55,929.71C571.39,929.72 572.23,929.74 573.07,929.77C573.91,929.81 574.75,929.85 575.59,929.92C576.43,929.98 577.26,930.06 578.09,930.15C578.93,930.25 579.76,930.36 580.59,930.49C581.41,930.62 582.24,930.77 583.07,930.93C583.89,931.08 584.71,931.26 585.54,931.44C586.36,931.62 587.18,931.81 588,932.01C588.82,932.2 589.64,932.4 590.46,932.6C591.28,932.8 592.11,933.01 592.93,933.21C593.75,933.41 594.58,933.6 595.4,933.79C596.23,933.98 597.06,934.16 597.89,934.33C598.72,934.5 599.55,934.67 600.38,934.81C601.22,934.95 602.06,935.09 602.9,935.2C603.74,935.31 604.58,935.41 605.42,935.48C606.26,935.55 607.1,935.61 607.94,935.64C608.78,935.67 609.62,935.68 610.45,935.66C611.29,935.64 612.12,935.6 612.95,935.52C613.78,935.45 614.6,935.34 615.42,935.21C616.24,935.07 617.05,934.91 617.86,934.7C618.67,934.5 619.47,934.26 620.26,933.99C621.05,933.71 621.84,933.4 622.61,933.05C623.39,932.69 624.15,932.29 624.91,931.86C625.67,931.43 626.41,930.93 627.15,930.44C627.89,929.96 628.63,929.43 629.36,928.94C630.1,928.45 630.83,927.95 631.58,927.52C632.32,927.1 633.07,926.69 633.83,926.38C634.59,926.07 635.36,925.8 636.15,925.67C636.94,925.54 637.75,925.51 638.58,925.58C639.4,925.65 640.26,925.86 641.1,926.07C641.95,926.28 642.81,926.59 643.66,926.85C644.51,927.11 645.37,927.42 646.2,927.63C647.03,927.84 647.86,928.05 648.65,928.11C649.44,928.16 650.22,928.17 650.95,927.98C651.68,927.79 652.38,927.43 653.05,926.98C653.73,926.53 654.35,925.87 654.99,925.26C655.63,924.65 656.24,923.91 656.89,923.3C657.53,922.69 658.17,922.04 658.85,921.6C659.54,921.16 660.25,920.77 661.01,920.64C661.78,920.51 662.61,920.64 663.45,920.83C664.3,921.02 665.2,921.46 666.07,921.79C666.94,922.11 667.84,922.57 668.67,922.78C669.5,922.99 670.32,923.18 671.05,923.05C671.78,922.93 672.44,922.52 673.05,922.01C673.66,921.5 674.19,920.7 674.73,919.98C675.26,919.27 675.74,918.39 676.25,917.71C676.76,917.03 677.28,916.27 677.78,915.92C678.29,915.57 678.85,915.34 679.27,915.61C679.68,915.88 680.01,916.7 680.28,917.54C680.55,918.37 680.74,919.59 680.91,920.61C681.09,921.63 681.19,922.71 681.34,923.66C681.49,924.62 681.6,925.5 681.8,926.33C682,927.15 682.21,927.91 682.56,928.6C682.91,929.29 683.34,929.92 683.89,930.48C684.43,931.03 685.12,931.53 685.81,931.93C686.5,932.33 687.26,932.6 688.01,932.9C688.75,933.2 689.51,933.43 690.25,933.74C691,934.04 691.74,934.38 692.48,934.74C693.23,935.09 693.97,935.48 694.7,935.87C695.44,936.26 696.18,936.68 696.92,937.1C697.65,937.52 698.39,937.96 699.13,938.39C699.87,938.83 700.61,939.27 701.35,939.7C702.1,940.14 702.84,940.57 703.59,940.99C704.34,941.41 705.1,941.82 705.86,942.21C706.61,942.6 707.38,942.98 708.15,943.33C708.92,943.68 709.69,944.02 710.48,944.31C711.26,944.61 712.05,944.88 712.85,945.11C713.65,945.34 714.46,945.53 715.27,945.7C716.08,945.86 716.9,945.99 717.73,946.09C718.55,946.19 719.38,946.26 720.22,946.31C721.05,946.35 721.89,946.37 722.73,946.36C723.57,946.36 724.41,946.33 725.26,946.28C726.1,946.23 726.94,946.16 727.79,946.07C728.63,945.98 729.48,945.87 730.32,945.74C731.16,945.62 732,945.48 732.83,945.33C733.67,945.18 734.51,945.01 735.34,944.84C736.17,944.68 737,944.5 737.83,944.32C738.66,944.14 739.48,943.96 740.31,943.79C741.14,943.61 741.96,943.43 742.78,943.27C743.61,943.11 744.43,942.94 745.25,942.8C746.07,942.66 746.89,942.52 747.72,942.41C748.54,942.3 749.36,942.2 750.18,942.13C751,942.06 751.82,942 752.64,941.98C753.46,941.96 754.29,941.96 755.11,941.99C755.93,942.02 756.75,942.08 757.58,942.16C758.4,942.24 759.22,942.35 760.04,942.47C760.87,942.59 761.69,942.74 762.51,942.9C763.33,943.06 764.16,943.24 764.98,943.44C765.8,943.63 766.62,943.85 767.44,944.07C768.26,944.29 769.09,944.53 769.91,944.78C770.72,945.03 771.54,945.28 772.36,945.55C773.18,945.81 774,946.09 774.81,946.36C775.63,946.64 776.44,946.92 777.26,947.21C778.07,947.49 778.88,947.78 779.69,948.07C780.5,948.35 781.31,948.64 782.12,948.93C782.93,949.21 783.74,949.5 784.54,949.78C785.35,950.05 786.16,950.33 786.97,950.6C787.77,950.87 788.58,951.13 789.39,951.38C790.19,951.64 791,951.88 791.81,952.12C792.62,952.35 793.43,952.58 794.24,952.79C795.05,953 795.86,953.2 796.67,953.38C797.48,953.57 798.29,953.74 799.11,953.89C799.92,954.04 800.74,954.18 801.56,954.29C802.38,954.41 803.2,954.51 804.02,954.58C804.84,954.66 805.67,954.71 806.5,954.74C807.33,954.77 808.16,954.78 808.99,954.77C809.83,954.75 810.66,954.71 811.5,954.63C812.35,954.56 813.19,954.46 814.04,954.34C814.89,954.21 816.17,953.94 816.59,953.86"/>
<path d="M542.73,987.02C543.14,987.02 544.36,987.05 545.18,987.03C546.01,987 546.84,986.95 547.67,986.88C548.5,986.82 549.34,986.73 550.17,986.63C551.01,986.53 551.85,986.41 552.7,986.28C553.54,986.16 554.39,986.02 555.24,985.88C556.08,985.73 556.94,985.58 557.79,985.43C558.64,985.29 559.49,985.13 560.34,984.99C561.19,984.84 562.04,984.7 562.9,984.56C563.75,984.43 564.6,984.3 565.45,984.18C566.3,984.07 567.15,983.96 568,983.88C568.85,983.79 569.69,983.72 570.54,983.68C571.38,983.63 572.22,983.6 573.06,983.6C573.9,983.61 574.74,983.63 575.57,983.69C576.4,983.75 577.23,983.84 578.05,983.96C578.88,984.08 579.7,984.24 580.51,984.43C581.33,984.61 582.14,984.83 582.95,985.06C583.76,985.29 584.57,985.56 585.37,985.82C586.18,986.09 586.98,986.38 587.79,986.67C588.59,986.97 589.39,987.27 590.19,987.57C590.99,987.87 591.79,988.18 592.59,988.47C593.39,988.77 594.19,989.07 594.99,989.34C595.79,989.62 596.6,989.89 597.4,990.13C598.21,990.38 599.01,990.61 599.82,990.81C600.63,991.01 601.44,991.19 602.26,991.33C603.08,991.47 603.9,991.58 604.72,991.65C605.54,991.72 606.37,991.75 607.2,991.74C608.03,991.73 608.86,991.68 609.69,991.59C610.51,991.49 611.34,991.36 612.16,991.18C612.98,991.01 613.79,990.79 614.59,990.54C615.39,990.28 616.19,989.98 616.97,989.64C617.74,989.3 618.51,988.92 619.25,988.5C620,988.08 620.73,987.61 621.43,987.11C622.14,986.61 622.82,986.06 623.5,985.5C624.18,984.95 624.84,984.36 625.52,983.81C626.19,983.25 626.86,982.69 627.55,982.19C628.25,981.69 628.96,981.22 629.69,980.81C630.42,980.41 631.18,980.06 631.94,979.78C632.71,979.5 633.5,979.28 634.29,979.14C635.08,978.99 635.89,978.92 636.7,978.92C637.51,978.93 638.33,979.02 639.14,979.19C639.96,979.36 640.78,979.66 641.6,979.94C642.42,980.23 643.24,980.63 644.05,980.9C644.87,981.16 645.69,981.45 646.5,981.53C647.32,981.61 648.14,981.54 648.95,981.38C649.77,981.21 650.58,980.86 651.39,980.55C652.19,980.24 652.99,979.83 653.79,979.51C654.58,979.18 655.36,978.85 656.16,978.62C656.96,978.4 657.75,978.21 658.57,978.16C659.39,978.11 660.23,978.19 661.08,978.31C661.92,978.43 662.79,978.68 663.64,978.88C664.5,979.08 665.36,979.35 666.19,979.5C667.02,979.64 667.85,979.8 668.64,979.77C669.43,979.74 670.19,979.61 670.91,979.32C671.63,979.03 672.32,978.57 672.96,978.03C673.59,977.5 674.2,976.83 674.75,976.13C675.3,975.43 675.81,974.63 676.27,973.86C676.73,973.08 677.15,972.25 677.51,971.46C677.88,970.67 678.19,969.89 678.48,969.11C678.76,968.33 679,967.56 679.23,966.76C679.47,965.97 679.66,965.18 679.87,964.34C680.07,963.51 680.25,962.67 680.45,961.77C680.66,960.88 680.85,959.91 681.08,958.98C681.3,958.06 681.54,956.97 681.79,956.24C682.04,955.52 682.31,954.81 682.58,954.62C682.86,954.44 683.16,954.69 683.44,955.15C683.72,955.61 684.01,956.56 684.26,957.38C684.52,958.19 684.75,959.17 684.97,960.06C685.18,960.95 685.36,961.83 685.55,962.7C685.73,963.58 685.9,964.45 686.08,965.3C686.26,966.15 686.43,967 686.63,967.83C686.84,968.66 687.04,969.48 687.29,970.28C687.54,971.08 687.81,971.87 688.12,972.64C688.44,973.41 688.8,974.17 689.2,974.9C689.61,975.64 690.07,976.35 690.57,977.05C691.06,977.74 691.6,978.41 692.16,979.06C692.72,979.7 693.32,980.33 693.94,980.92C694.55,981.52 695.18,982.08 695.83,982.63C696.48,983.17 697.14,983.68 697.82,984.18C698.49,984.67 699.18,985.14 699.88,985.6C700.58,986.06 701.29,986.49 702.01,986.92C702.73,987.34 703.47,987.75 704.2,988.15C704.94,988.55 705.69,988.94 706.44,989.33C707.19,989.72 707.95,990.1 708.71,990.48C709.47,990.86 710.24,991.23 711,991.61C711.77,991.99 712.54,992.38 713.31,992.75C714.08,993.13 714.86,993.5 715.63,993.87C716.41,994.23 717.19,994.59 717.98,994.93C718.76,995.26 719.55,995.59 720.34,995.9C721.13,996.2 721.92,996.49 722.72,996.75C723.52,997.01 724.32,997.24 725.13,997.45C725.94,997.65 726.75,997.83 727.57,997.96C728.38,998.1 729.2,998.2 730.03,998.26C730.86,998.32 731.69,998.35 732.53,998.32C733.37,998.29 734.22,998.2 735.06,998.09C735.91,997.99 736.77,997.81 737.62,997.68C738.47,997.56 739.32,997.43 740.16,997.34C741,997.26 741.84,997.25 742.66,997.17C743.49,997.1 744.31,997.05 745.12,996.9C745.94,996.75 746.74,996.51 747.55,996.28C748.36,996.04 749.16,995.74 749.97,995.48C750.78,995.23 751.59,994.94 752.41,994.75C753.22,994.56 754.05,994.41 754.89,994.34C755.72,994.27 756.57,994.3 757.41,994.34C758.26,994.38 759.11,994.48 759.95,994.58C760.79,994.68 761.63,994.8 762.46,994.94C763.29,995.07 764.12,995.22 764.95,995.38C765.77,995.55 766.6,995.72 767.41,995.91C768.23,996.1 769.05,996.3 769.86,996.52C770.68,996.73 771.49,996.95 772.3,997.19C773.11,997.42 773.92,997.66 774.72,997.92C775.53,998.17 776.33,998.43 777.14,998.7C777.94,998.96 778.75,999.24 779.55,999.52C780.35,999.79 781.16,1000.08 781.96,1000.36C782.76,1000.64 783.57,1000.93 784.37,1001.22C785.17,1001.5 785.97,1001.79 786.78,1002.07C787.58,1002.35 788.38,1002.63 789.19,1002.91C789.99,1003.18 790.8,1003.45 791.61,1003.71C792.41,1003.97 793.22,1004.23 794.03,1004.47C794.84,1004.72 795.65,1004.95 796.46,1005.17C797.27,1005.4 798.09,1005.61 798.91,1005.8C799.72,1006 800.54,1006.18 801.36,1006.34C802.18,1006.5 803.01,1006.65 803.83,1006.78C804.66,1006.9 805.49,1007.01 806.32,1007.1C807.15,1007.18 807.99,1007.25 808.83,1007.29C809.67,1007.33 810.51,1007.34 811.35,1007.33C812.2,1007.32 813.05,1007.29 813.9,1007.22C814.76,1007.15 816.05,1006.98 816.48,1006.93" stroke-dasharray="9.6 3.3 2.4 3.3"/>
<path d="M542.71,986.67C543.13,986.66 544.37,986.68 545.21,986.65C546.04,986.62 546.88,986.57 547.71,986.5C548.55,986.43 549.39,986.34 550.23,986.24C551.07,986.14 551.91,986.03 552.75,985.9C553.59,985.78 554.43,985.64 555.27,985.5C556.12,985.37 556.96,985.22 557.8,985.07C558.65,984.93 559.49,984.78 560.33,984.64C561.18,984.49 562.02,984.35 562.86,984.22C563.71,984.09 564.55,983.96 565.39,983.85C566.23,983.74 567.07,983.63 567.92,983.55C568.76,983.46 569.6,983.39 570.44,983.34C571.27,983.3 572.11,983.27 572.95,983.26C573.79,983.26 574.62,983.28 575.45,983.33C576.29,983.38 577.12,983.46 577.95,983.57C578.78,983.69 579.61,983.83 580.43,984C581.26,984.17 582.08,984.38 582.91,984.59C583.73,984.81 584.55,985.05 585.37,985.3C586.19,985.55 587.01,985.82 587.83,986.08C588.65,986.35 589.47,986.63 590.28,986.91C591.1,987.18 591.91,987.46 592.73,987.72C593.54,987.99 594.36,988.26 595.17,988.5C595.99,988.75 596.8,988.98 597.61,989.19C598.43,989.4 599.24,989.6 600.05,989.76C600.87,989.92 601.68,990.07 602.49,990.17C603.31,990.27 604.12,990.34 604.93,990.37C605.75,990.39 606.56,990.38 607.38,990.33C608.19,990.28 609,990.19 609.82,990.06C610.63,989.94 611.44,989.78 612.24,989.58C613.05,989.39 613.85,989.16 614.65,988.91C615.45,988.65 616.25,988.36 617.04,988.05C617.83,987.74 618.61,987.4 619.39,987.03C620.17,986.67 620.94,986.28 621.7,985.87C622.47,985.46 623.22,985.03 623.97,984.58C624.72,984.14 625.46,983.67 626.18,983.19C626.91,982.7 627.63,982.2 628.34,981.7C629.04,981.19 629.73,980.64 630.43,980.16C631.13,979.68 631.82,979.18 632.54,978.84C633.27,978.49 634.01,978.19 634.8,978.09C635.59,977.98 636.43,978.06 637.28,978.23C638.13,978.4 639.03,978.77 639.88,979.11C640.74,979.44 641.57,979.9 642.39,980.25C643.2,980.6 643.99,981 644.77,981.21C645.55,981.43 646.31,981.6 647.07,981.55C647.83,981.51 648.57,981.27 649.32,980.95C650.07,980.64 650.82,980.14 651.57,979.68C652.33,979.22 653.08,978.66 653.86,978.19C654.63,977.73 655.41,977.24 656.2,976.9C657,976.56 657.8,976.26 658.6,976.14C659.41,976.02 660.23,976.07 661.04,976.19C661.85,976.32 662.68,976.63 663.49,976.9C664.31,977.18 665.12,977.56 665.93,977.84C666.74,978.12 667.55,978.44 668.34,978.59C669.13,978.73 669.92,978.81 670.69,978.7C671.46,978.6 672.22,978.33 672.94,977.97C673.66,977.6 674.36,977.09 675.01,976.52C675.65,975.95 676.27,975.27 676.81,974.56C677.35,973.85 677.84,973.06 678.26,972.27C678.67,971.48 679,970.66 679.29,969.84C679.59,969.01 679.8,968.17 680.02,967.33C680.24,966.49 680.41,965.63 680.62,964.78C680.83,963.93 681.04,962.94 681.27,962.24C681.5,961.53 681.77,960.69 682,960.55C682.24,960.42 682.47,960.83 682.68,961.41C682.9,961.99 683.09,963.13 683.29,964.03C683.49,964.94 683.68,965.93 683.88,966.83C684.08,967.73 684.28,968.58 684.5,969.42C684.71,970.26 684.93,971.06 685.18,971.85C685.42,972.65 685.68,973.41 685.97,974.18C686.26,974.94 686.57,975.69 686.92,976.44C687.26,977.19 687.64,977.95 688.05,978.68C688.46,979.41 688.91,980.14 689.39,980.83C689.86,981.52 690.38,982.2 690.92,982.82C691.47,983.45 692.05,984.03 692.66,984.59C693.27,985.14 693.92,985.64 694.59,986.13C695.25,986.61 695.95,987.06 696.66,987.49C697.37,987.92 698.11,988.32 698.86,988.7C699.61,989.09 700.38,989.45 701.15,989.81C701.93,990.16 702.72,990.5 703.51,990.84C704.3,991.17 705.1,991.5 705.9,991.83C706.7,992.16 707.5,992.49 708.29,992.82C709.09,993.15 709.88,993.48 710.68,993.81C711.47,994.13 712.27,994.46 713.06,994.77C713.85,995.08 714.65,995.39 715.44,995.68C716.24,995.97 717.03,996.25 717.83,996.51C718.63,996.77 719.43,997.01 720.23,997.23C721.04,997.44 721.84,997.64 722.65,997.81C723.46,997.97 724.27,998.11 725.09,998.22C725.91,998.32 726.73,998.4 727.56,998.43C728.39,998.46 729.22,998.47 730.06,998.42C730.9,998.37 731.75,998.28 732.6,998.16C733.45,998.03 734.31,997.83 735.17,997.67C736.03,997.51 736.89,997.31 737.75,997.19C738.6,997.07 739.45,996.98 740.29,996.95C741.13,996.91 741.95,996.99 742.78,996.97C743.6,996.96 744.41,996.96 745.22,996.84C746.03,996.71 746.83,996.47 747.64,996.22C748.45,995.97 749.25,995.61 750.06,995.33C750.87,995.04 751.67,994.71 752.5,994.5C753.32,994.29 754.14,994.13 754.98,994.06C755.81,993.99 756.66,994.04 757.51,994.1C758.35,994.16 759.2,994.3 760.04,994.41C760.88,994.53 761.72,994.67 762.55,994.81C763.38,994.95 764.21,995.11 765.03,995.27C765.85,995.44 766.67,995.61 767.49,995.8C768.31,995.99 769.12,996.18 769.94,996.39C770.75,996.6 771.56,996.81 772.37,997.04C773.18,997.26 773.98,997.5 774.79,997.75C775.59,997.99 776.4,998.25 777.2,998.51C778,998.78 778.81,999.05 779.61,999.33C780.41,999.6 781.21,999.89 782.02,1000.17C782.82,1000.45 783.62,1000.74 784.42,1001.03C785.22,1001.32 786.03,1001.61 786.83,1001.89C787.63,1002.18 788.43,1002.46 789.24,1002.74C790.04,1003.01 790.85,1003.29 791.65,1003.55C792.46,1003.82 793.27,1004.08 794.07,1004.32C794.88,1004.57 795.69,1004.81 796.51,1005.03C797.32,1005.25 798.13,1005.46 798.95,1005.66C799.76,1005.85 800.58,1006.03 801.4,1006.2C802.22,1006.36 803.04,1006.5 803.87,1006.62C804.69,1006.74 805.52,1006.85 806.35,1006.93C807.18,1007 808.01,1007.06 808.85,1007.09C809.69,1007.12 810.53,1007.12 811.37,1007.1C812.22,1007.07 813.06,1007.02 813.91,1006.93C814.77,1006.85 816.05,1006.64 816.48,1006.58"/>
</g>
<line x1="679.7" y1="808.95" x2="679.7" y2="1018.4" stroke="#000" stroke-width="2.2"/>
<path d="M562.55,809.95v3M562.55,1017.4v-3M601.6,809.95v6M601.6,1017.4v-6M640.65,809.95v3M640.65,1017.4v-3M718.75,809.95v3M718.75,1017.4v-3M757.8,809.95v6M757.8,1017.4v-6M796.85,809.95v3M796.85,1017.4v-3" stroke="#000" stroke-width="2" fill="none"/>
<rect x="543.15" y="808.95" width="273.25" height="209.45" fill="none" stroke="#000" stroke-width="2.2"/>
<line x1="761.1" y1="831.4" x2="784.8" y2="831.4" stroke="#000" stroke-width="2.4"/>
<line x1="760.4" y1="852.2" x2="784" y2="852.2" stroke="#000" stroke-width="2.4" stroke-dasharray="8.6 3.8 2.4 2.4"/>
<line x1="61.2" y1="894.8" x2="84.6" y2="894.8" stroke="#000" stroke-width="2.4"/>
<line x1="334.9" y1="894.8" x2="359" y2="894.8" stroke="#000" stroke-width="2.4" stroke-dasharray="9 3.3 2.4 3.3"/>
<g font-family="'Liberation Serif', serif" filter="url(#noaa)" stroke="#000" stroke-width="0.28" stroke-linejoin="round">
<text x="4.6" y="633" font-size="24.6" text-anchor="start" fill="#000" stroke="#000" font-weight="bold">(a)</text>
<text x="432.3" y="539.7" font-size="24.6" text-anchor="start" fill="#000" stroke="#000" font-weight="bold">(b)</text>
<text x="501.3" y="822.4" font-size="24.6" text-anchor="start" fill="#000" stroke="#000" font-weight="bold">(c)</text>
<text x="43.3" y="703.2" font-size="24.3" text-anchor="end" fill="#000" stroke="#000" >8</text>
<text x="43.3" y="809.7" font-size="24.3" text-anchor="end" fill="#000" stroke="#000" >4</text>
<text x="135.9" y="934.9" font-size="24.3" text-anchor="middle" fill="#000" stroke="#000" >0.1</text>
<text x="308.4" y="934.9" font-size="24.3" text-anchor="middle" fill="#000" stroke="#000" >-0.1</text>
<text x="210.5" y="934.9" font-size="24.3" font-style="italic">E<tspan dy="8" font-size="17">F</tspan></text>
<text x="220.5" y="966.7" font-size="24.3" text-anchor="middle" fill="#000" stroke="#000" >Binding energy (eV)</text>
<text transform="translate(26.0,783.5) rotate(-90)" font-size="24.3"><tspan x="0">A</tspan><tspan x="24.2">(</tspan><tspan x="34.5" font-style="italic" font-size="23">ω</tspan><tspan x="48.3">)</tspan></text>
<text x="210" y="845.2" font-size="21.8" text-anchor="end" fill="#4a0c2e" stroke="#4a0c2e" >50 K</text>
<text x="210" y="872.5" font-size="21.8" text-anchor="end" fill="#f79a5b" stroke="#f79a5b" >100 K</text>
<text x="210" y="900" font-size="21.8" text-anchor="end" fill="#5cc5e2" stroke="#5cc5e2" >150 K</text>
<text x="233.9" y="872.7" font-size="21.8" text-anchor="start" fill="#0a6412" stroke="#0a6412" >200 K</text>
<text x="233.9" y="900.3" font-size="21.8" text-anchor="start" fill="#8dbb3e" stroke="#8dbb3e" >300 K</text>
<text x="89.2" y="900.6" font-size="21.5" text-anchor="start" fill="#000" stroke="#000" >up</text>
<text x="365.3" y="900.6" font-size="21.5" text-anchor="start" fill="#000" stroke="#000" >dn</text>
<text x="524.58" y="751" font-size="24.3" text-anchor="middle" fill="#000" stroke="#000" >200</text>
<text x="579.36" y="751" font-size="24.3" text-anchor="middle" fill="#000" stroke="#000" >400</text>
<text x="634.14" y="751" font-size="24.3" text-anchor="middle" fill="#000" stroke="#000" >600</text>
<text x="688.92" y="751" font-size="24.3" text-anchor="middle" fill="#000" stroke="#000" >800</text>
<text x="805.65" y="751" font-size="24.3" text-anchor="middle" fill="#000" stroke="#000" >200</text>
<text x="604.5" y="778.5" font-size="24.3" text-anchor="middle" fill="#000" stroke="#000" >Temperature (K)</text>
<text x="889.75" y="778.5" font-size="24.3" text-anchor="middle" fill="#000" stroke="#000" >Temperature (K)</text>
<text x="674.8" y="633.3" font-size="19.3" text-anchor="start" fill="#000" stroke="#000" >Fe I up</text>
<text x="674.8" y="658.1" font-size="19.3" text-anchor="start" fill="#000" stroke="#000" >Fe I dn</text>
<text x="674.8" y="682.9" font-size="19.3" text-anchor="start" fill="#000" stroke="#000" >Fe II up</text>
<text x="674.8" y="707.7" font-size="19.3" text-anchor="start" fill="#000" stroke="#000" >Fe II dn</text>
<text x="500" y="702.8" font-size="25.6" text-anchor="start" fill="#000" stroke="#000" font-style="italic" font-weight="bold">d</text>
<text x="512.4" y="710.2" font-size="16.5" text-anchor="start" fill="#000" stroke="#000" font-style="italic" font-weight="bold">z</text>
<text x="520.2" y="701.7" font-size="11.2" text-anchor="start" fill="#000" stroke="#000" font-style="italic" font-weight="bold">2</text>
<text x="784" y="702.8" font-size="25.6" text-anchor="start" fill="#000" stroke="#000" font-style="italic" font-weight="bold">d</text>
<text x="794.9" y="709.7" font-size="16.5" text-anchor="start" fill="#000" stroke="#000" font-style="italic" font-weight="bold">x</text>
<text x="804.9" y="701.4" font-size="11.2" text-anchor="start" fill="#000" stroke="#000" font-style="italic" font-weight="bold">2</text>
<text x="810.1" y="709.7" font-size="16.5" text-anchor="start" fill="#000" stroke="#000" font-style="italic" font-weight="bold">-</text>
<text x="814" y="709.7" font-size="16.5" text-anchor="start" fill="#000" stroke="#000" font-style="italic" font-weight="bold">y</text>
<text x="823.9" y="701.4" font-size="11.2" text-anchor="start" fill="#000" stroke="#000" font-style="italic" font-weight="bold">2</text>
<text x="601.4" y="1041.2" font-size="24.3" text-anchor="middle" fill="#000" stroke="#000" >2</text>
<text x="757.8" y="1041.2" font-size="24.3" text-anchor="middle" fill="#000" stroke="#000" >-2</text>
<text x="667.5" y="1041.2" font-size="24.3" font-style="italic">E<tspan dy="8" font-size="17">F</tspan></text>
<text x="678.7" y="1067.2" font-size="24.3" text-anchor="middle" fill="#000" stroke="#000" >Binding energy (eV)</text>
<text transform="translate(524.9,941) rotate(-90)" font-size="24.3"><tspan x="0">A</tspan><tspan x="24.2">(</tspan><tspan x="34.5" font-style="italic" font-size="23">ω</tspan><tspan x="48.3">)</tspan></text>
<text x="549.7" y="854.4" font-size="19.4" text-anchor="start" fill="#000" stroke="#000" >50 K</text>
<text x="549.7" y="919.8" font-size="19.4" text-anchor="start" fill="#000" stroke="#000" >300 K</text>
<text x="549.7" y="976.2" font-size="19.4" text-anchor="start" fill="#000" stroke="#000" >900 K</text>
<text x="787.8" y="837.4" font-size="21.5" text-anchor="start" fill="#000" stroke="#000" >up</text>
<text x="787.8" y="858.5" font-size="21.5" text-anchor="start" fill="#000" stroke="#000" >dn</text>
</g>
</svg>
</body></html>
